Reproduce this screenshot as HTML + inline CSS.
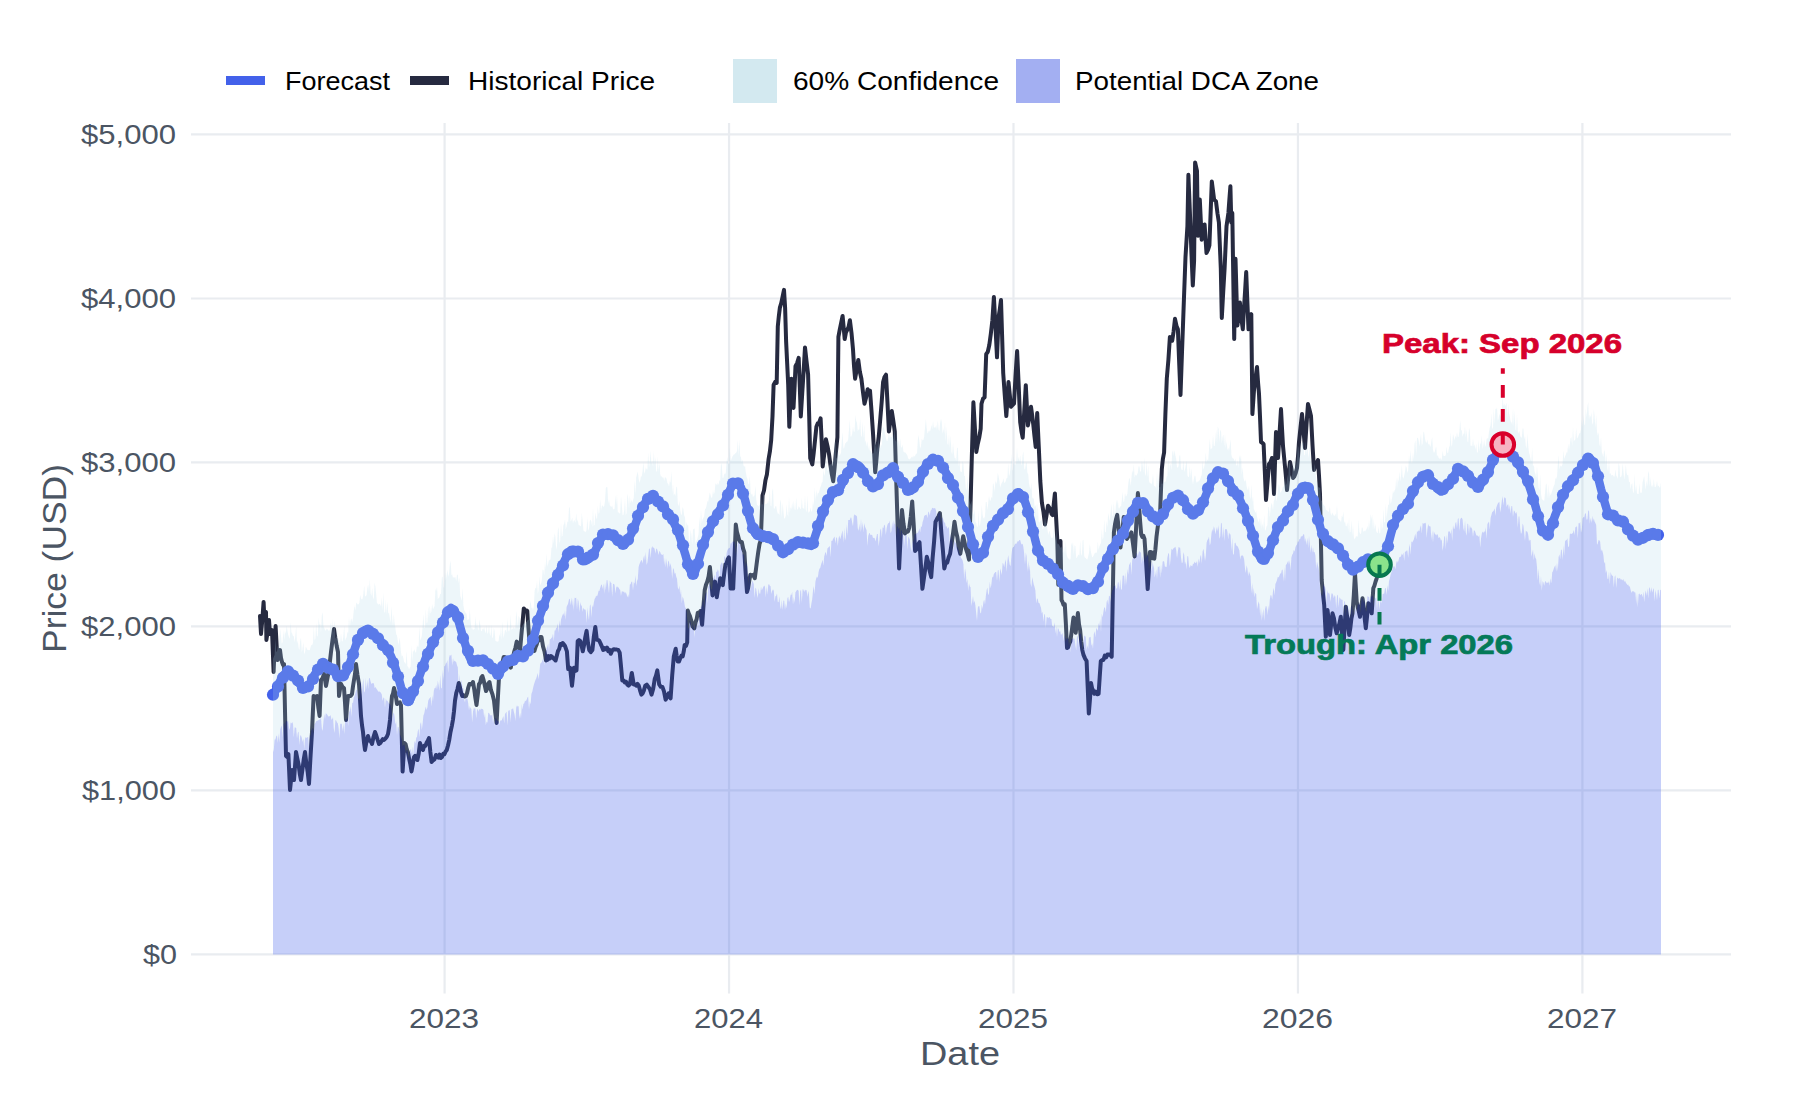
<!DOCTYPE html>
<html><head><meta charset="utf-8"><title>Forecast</title>
<style>html,body{margin:0;padding:0;background:#fff;width:1800px;height:1100px;overflow:hidden}svg{display:block}</style>
</head><body><svg width="1800" height="1100" viewBox="0 0 1800 1100" font-family='"Liberation Sans", sans-serif'><rect width="1800" height="1100" fill="#ffffff"/><g stroke="#e9ecf0" stroke-width="2.2"><line x1="191" y1="134.4" x2="1731" y2="134.4"/><line x1="191" y1="298.5" x2="1731" y2="298.5"/><line x1="191" y1="462.4" x2="1731" y2="462.4"/><line x1="191" y1="626.4" x2="1731" y2="626.4"/><line x1="191" y1="790.4" x2="1731" y2="790.4"/><line x1="191" y1="954.3" x2="1731" y2="954.3"/><line x1="444.6" y1="123" x2="444.6" y2="993.5"/><line x1="729.05" y1="123" x2="729.05" y2="993.5"/><line x1="1013.5" y1="123" x2="1013.5" y2="993.5"/><line x1="1297.95" y1="123" x2="1297.95" y2="993.5"/><line x1="1582.4" y1="123" x2="1582.4" y2="993.5"/></g><path d="M260,616 L261,634 L262.3,620.1 L263.6,602 L264.4,620 L266,612 L266.4,640 L267.7,631.3 L269,620 L270,634 L271,631.3 L272,630 L273.6,672 L274.6,647.3 L275.6,626 L276.6,644.9 L277.6,660 L278.8,653.1 L280,650 L281,657.9 L282,662 L283,664.9 L284,664 L285,710.7 L286,756 L287.2,757 L288.4,754 L290,790 L291,780.5 L292,770 L293,776.1 L294,780 L295,766.4 L296,752 L297.2,757.8 L298.5,764.1 L299.8,774.1 L301,780 L302.3,770.5 L303.7,759.7 L305,752 L306.3,762.9 L307.7,772.3 L309,784 L310.5,757 L312,732 L313.6,696 L314.7,697.7 L315.9,696.5 L317,696 L318.3,707.1 L319.6,716 L321,680 L322.5,678.4 L324,674 L325,679.7 L326,686 L327.5,677.8 L329,670 L330,660.7 L331,652 L332.5,639.9 L334,629 L335.3,637.9 L336.7,646 L338,652 L339,696 L340,689.1 L341,684 L342.5,686.9 L344,688 L345,702.7 L346,720 L347,705.8 L348,696 L349.3,696.1 L350.7,695.9 L352,694 L353,686.3 L354,680 L355,674.2 L356,664 L357.5,675 L359,684 L360,699.2 L361,716 L362,725.1 L363,732 L364,742.5 L365,750 L366.5,741.4 L368,736 L369.3,740.5 L370.7,741 L372,744 L373.5,737 L375,732 L376.3,735.5 L377.7,740.1 L379,744 L380.2,743.1 L381.5,741.1 L382.8,739.1 L384,740 L385.3,738.6 L386.7,737 L388,734 L389,727.9 L390,720 L391,707.5 L392,696 L393,693.6 L394,688 L395.5,693.9 L397,704 L398.5,703 L399.8,702.4 L401,705 L402.6,771.5 L404.4,743 L405.6,744.1 L406.8,749.6 L408,752.6 L409.2,759 L410.3,764 L411.5,771.5 L412.8,764.4 L414,757 L415.1,755.8 L416.3,757 L417.4,760 L418.7,753.5 L420,743 L421.5,748.2 L423,750 L424.2,745.7 L425.4,745.9 L426.6,742.8 L427.8,740.6 L429,738 L430.3,751.5 L431.6,762 L433.1,760.3 L434.5,759.3 L436,755 L437.2,756.2 L438.4,757.6 L439.6,754.5 L440.8,758 L442,757 L443.2,753.9 L444.4,754.3 L445.6,751.4 L446.8,749.9 L448,745.5 L449.2,740.1 L450.5,732 L451.8,726.1 L453,719.5 L454,711.3 L455,700.6 L456.3,692.8 L457.5,689 L458.8,683 L460,687.6 L461.1,692.6 L462.3,696 L463.5,695.3 L464.8,696.5 L466,696 L467.1,693 L468.3,687.5 L469.4,684 L470.6,684.1 L471.8,684.4 L473,682 L474.2,689.1 L475.3,697.4 L476.5,705 L477.8,694.4 L479,684 L480.1,682.8 L481.3,677.7 L482.4,676 L483.6,680.1 L484.8,685.5 L486,691 L487.2,688.7 L488.3,683.5 L489.5,682 L491,690.3 L492.5,694.4 L494,700.6 L495.3,712.8 L496.6,723 L497.8,699.6 L499,677 L500.2,669.9 L501.4,666.5 L502.5,662.3 L503.7,657 L505.1,657.3 L506.5,663.4 L508,663.7 L509.4,665.3 L510.8,667.6 L512,660.3 L513.2,656.1 L514.3,651.3 L515.5,647.5 L516.7,641.6 L517.8,643.3 L518.9,647.8 L520,651 L521.3,635.8 L522.5,623 L523.8,608.5 L525,610.2 L526.1,610.2 L527.3,611 L528.5,628.6 L529.7,644 L530.9,646.3 L532,645.7 L533.2,649.9 L534.4,651 L535.6,646.9 L536.8,644.1 L538,639 L539.2,640.3 L540.3,637 L541.5,637 L543,646.4 L544.5,651.5 L546,660.5 L547.2,660 L548.5,656.1 L549.8,658.6 L551,656 L552.1,656.9 L553.3,658.1 L554.5,659.4 L555.6,660.5 L556.8,655.8 L558,651.1 L559.2,649 L560.4,644 L561.5,645.1 L562.7,643 L563.9,644.5 L565,646 L566.9,651.3 L568.2,669.1 L570.1,667.8 L572,685.7 L573.9,667.8 L575.2,671 L576.5,670.4 L577.7,641.1 L579,640.1 L580.3,641.1 L581.5,645.3 L582.8,651.3 L584.1,644.8 L585.3,637.1 L586.6,630.9 L587.9,642.4 L589.2,650 L590.8,652.1 L592.4,650 L593.8,636.9 L595.3,627.1 L596.8,639.8 L598.1,639.9 L599.3,640.9 L600.6,643.6 L601.9,646.6 L603.2,650 L604.5,648.2 L605.7,649.1 L607,647.5 L608.3,651.3 L609.5,649.8 L610.8,653.8 L612.3,650.2 L613.8,649.2 L615.3,649.4 L616.8,649.6 L618.2,649.9 L619.7,652.6 L621,666.3 L622.3,680.6 L623.6,680.4 L624.8,682.4 L626.1,681.8 L627.4,684.7 L628.6,685.6 L629.9,684.4 L631.8,672.9 L633.7,684.4 L635,684.4 L636.2,685.7 L637.5,683.8 L638.8,685.7 L640.1,690.6 L641.4,694.6 L642.7,693.3 L643.9,690.4 L645.2,685.7 L646.8,684.7 L648.4,686.9 L650,689.3 L651.6,694.6 L653.2,688.7 L654.7,679.3 L656,675.7 L657.3,670.4 L659.2,684.4 L660.8,686.8 L662.4,686.9 L664,691.4 L665.6,699.7 L667.2,697 L668.7,693.3 L670.6,698.4 L672.2,675.3 L673.8,656.4 L675.7,648.7 L676.7,656.1 L677.7,661.5 L679,661.5 L680.2,658.2 L681.5,655.5 L682.7,656.4 L683.7,651.7 L684.7,644.9 L686,645.8 L687.2,642.4 L687.8,610.5 L688.9,613.9 L690,616.2 L691.3,620.8 L692.6,626.5 L694.3,628.3 L695.5,622.3 L696.6,619.3 L697.8,612.7 L699.1,613.9 L700.4,611 L702.1,624.8 L703.4,607 L704.7,590.3 L706,584.7 L707.3,581.6 L708.6,576.5 L709.9,567 L711.2,580.9 L712.5,595.4 L713.8,588.2 L715,581.6 L716.8,597.2 L717.9,590 L719.1,585.5 L720.2,578.2 L721.5,583.8 L722.8,585.1 L724.1,574.6 L725.4,564.4 L726.6,563.6 L727.7,559.3 L728.9,557.4 L730.6,588.5 L731.9,588.2 L733.2,588.5 L734.5,557.9 L735.8,524.6 L736.9,531.9 L738.1,536.1 L739.2,540.2 L740.5,542 L741.8,541.9 L743.1,548.5 L744.4,552.3 L745.7,574 L747,592 L748.1,588.2 L749.3,580.6 L750.4,574.7 L751.9,575.4 L753.3,574.9 L754.8,578.2 L755.9,569.7 L757.1,560.3 L758.2,552.3 L759.5,544.1 L760.8,540.2 L762.5,495.3 L764,490.5 L765.4,480.6 L766.9,474.5 L768.6,459 L769.9,451.4 L771.2,440 L772.5,416.4 L773.6,385 L775.2,381.8 L776.7,382.9 L777.8,326.4 L778.8,316.4 L779.9,307.6 L781.3,302.9 L782.6,296.6 L784,289.9 L785.1,307.6 L786.1,341.1 L787.2,363.8 L788.2,385 L789.3,426.8 L790.3,402.7 L791.4,378.7 L792.5,391.6 L793.5,408 L794.5,388.6 L795.5,366.2 L797.1,363.1 L798.7,357.8 L799.8,387 L800.8,416.4 L802.2,393.7 L803.6,371.7 L805,347.4 L806.5,360.9 L808.1,374.5 L809.2,416.2 L810.2,458.2 L811.2,461.2 L812.3,464.4 L813.7,452.9 L815,440.4 L816.4,426.8 L817.8,423.3 L819.2,422.4 L820.6,418.4 L821.7,441.9 L822.7,466.5 L824.3,453.7 L825.9,439.3 L827.5,446.1 L829,454 L830.4,464.8 L831.8,474.1 L833.2,481.2 L834.6,467.8 L836,451.4 L837.4,437.3 L838.4,336.9 L839.8,329.3 L841.2,322.7 L842.6,316 L843.7,328 L844.7,339 L846,332.2 L847.3,329.8 L848.6,326.8 L849.9,320.2 L851.5,332.9 L853,349.4 L854,365.8 L855.1,378.7 L856.7,369.6 L858.3,359.9 L859.8,371.5 L861.4,378.7 L863,392.2 L864.5,403.8 L866.1,397.5 L867.7,389.2 L868.9,391.1 L870,390.7 L871.5,410.8 L872.9,431.5 L874,450.2 L875.2,472.2 L876.2,462.2 L877.3,449 L878.8,436.1 L880.2,419.8 L881.7,401.9 L883.1,382 L884.5,377.1 L886,374.7 L887.5,403.1 L888.9,431.5 L890.3,421.3 L891.8,411 L893.3,420.7 L894.8,431.5 L896.2,479.5 L897.7,527.6 L899.1,568.4 L900.5,539.1 L902,510.1 L903.5,523.9 L905,533.4 L906.4,532 L907.9,531.6 L909.3,527.6 L910.8,516.3 L912.2,501.4 L913.7,524.7 L915.1,550.9 L916.6,549.2 L918,544.6 L919.5,542.2 L921,565.9 L922.4,588.8 L923.9,578.4 L925.3,568.5 L926.8,556.7 L928.3,562.6 L929.7,571.1 L931.2,577.1 L932.6,558.1 L934.1,541.5 L935.5,521.8 L937,518.8 L938.4,516.6 L939.9,513 L941.4,533.7 L942.8,549 L944.3,568.4 L945.8,562.6 L947.2,562.8 L948.6,557.6 L950.1,553.8 L951.6,543.8 L953,533.9 L954.5,521.8 L956,531.5 L957.4,537.3 L958.8,547.9 L960.3,553.8 L961.8,544.6 L963.2,536.3 L964.7,543.1 L966.1,549.4 L967.5,553.2 L969,559.6 L970.5,506.8 L971.9,454.1 L973.4,402.3 L974.8,426.4 L976.3,451.9 L977.8,443.7 L979.2,437.9 L980.7,428.6 L981.5,403.7 L983,398.7 L984.6,397.5 L986.2,354.2 L987.8,351.8 L989.3,345 L990.8,333.9 L992.4,320.2 L993.9,297 L995.5,327.4 L997,357.3 L998.6,317.1 L999.8,309.2 L1001,300.1 L1002.1,335.6 L1003.2,372.8 L1004.8,395.6 L1006.3,416.1 L1007.4,400.7 L1008.5,382.1 L1009.7,393.9 L1010.9,406.8 L1012.5,405.2 L1014,403.7 L1015.5,376.2 L1017.1,351.1 L1018.7,385.6 L1020.2,422.3 L1021.5,431.5 L1022.7,437.7 L1024.2,412.1 L1025.8,385.2 L1026.8,405.1 L1027.9,425.4 L1029.5,416.7 L1031,406.8 L1032.2,415.5 L1033.3,424.7 L1034.5,436.3 L1035.7,447 L1037.2,413 L1038.8,447.3 L1040.3,481 L1041.9,502.7 L1043.5,512.2 L1045,524.4 L1046.5,515.3 L1048,505.8 L1049.2,507.4 L1050.3,509.4 L1051.5,513.8 L1052.7,515.1 L1053.8,503.6 L1054.9,493.4 L1056.1,517.7 L1057.3,539.8 L1058.3,584.7 L1059.4,563.9 L1060.5,541 L1061.5,600 L1062.5,601.9 L1063.5,604.8 L1064.8,604.4 L1065.9,624.1 L1067,648 L1068.1,647.3 L1069.2,643.9 L1070.3,641.5 L1071.9,629.9 L1073.5,617.5 L1074.6,625.9 L1075.7,632.7 L1076.8,623.1 L1077.9,613.1 L1079,624.4 L1080.1,629.9 L1081.2,641.5 L1082.3,650.1 L1083.4,654.6 L1085,658.4 L1086.6,661.1 L1087.7,686.9 L1088.8,713.5 L1089.9,700 L1091,682.9 L1092.1,688.3 L1093.2,690.6 L1094.3,693.8 L1095.7,691.6 L1097.2,694.3 L1098.6,693.8 L1099.7,677.1 L1100.8,661.1 L1102.1,660.1 L1103.4,660 L1104.8,655.6 L1106.1,657.4 L1107.4,654.6 L1108.8,654.5 L1110.3,654.9 L1111.7,656.7 L1112.8,595.6 L1113.9,532.4 L1115,524.5 L1116.1,519 L1117.2,514.9 L1118.3,524.8 L1119.4,536.8 L1120.5,547.6 L1122.1,534.3 L1123.7,517.1 L1124.8,522.9 L1125.9,530.7 L1127,538.9 L1128.5,536.2 L1129.9,535.2 L1131.4,532.4 L1133,543.8 L1134.6,556.4 L1135.7,536 L1136.8,512.7 L1137.9,493.1 L1139,504.9 L1140.1,521.1 L1141.2,534.5 L1142.3,537 L1143.4,535.8 L1144.5,538.9 L1146.1,562 L1147.7,589.1 L1148.8,571.3 L1149.9,552 L1151.4,552.3 L1152.8,558.3 L1154.3,558.6 L1155.4,549.2 L1156.5,536.7 L1157.6,528 L1158.8,520.1 L1160.1,513 L1161.8,469.3 L1162.9,458.9 L1164.1,452.5 L1165.4,413.7 L1166.8,378.6 L1168.4,359.8 L1169.9,337 L1171.1,338.2 L1172.2,340.8 L1173.6,331.5 L1175,318.8 L1176.5,325.9 L1177.9,329.3 L1179.2,363.3 L1180.5,395 L1182,352.3 L1183.6,308.3 L1185.5,256.8 L1187.4,226.3 L1188.4,174.8 L1190.3,222.5 L1191.5,254.3 L1192.8,285.4 L1194.1,260.6 L1195.1,162.4 L1197,171 L1197.9,235.8 L1199.8,199.6 L1201.7,239.7 L1203.2,232.1 L1204.6,224.4 L1206.5,253 L1208,249.9 L1209.4,245.4 L1210.6,213.4 L1211.8,181.5 L1212.9,190.1 L1214.1,199.6 L1216,201.5 L1217.5,213.5 L1218.9,222.5 L1220.8,268.3 L1221.8,317.9 L1223.2,292.2 L1224.6,268.3 L1226.5,226.3 L1228.4,213 L1229.4,199.2 L1230.4,186.2 L1231.3,222.5 L1232.3,213 L1234.2,338.9 L1235.5,258.7 L1237.4,325.5 L1238.7,314.8 L1239.9,302.6 L1241.3,318 L1242.8,329.3 L1243.9,309.5 L1245.1,290.9 L1246.2,272.1 L1247.3,300.3 L1248.5,329.3 L1249.9,320.4 L1251.3,314.1 L1252.4,414 L1254,390 L1255.5,377.9 L1257,367 L1258,381.8 L1259,394 L1260,416.6 L1261,442 L1262.3,442.9 L1263.6,444 L1264.8,471 L1266,500 L1267.5,482.3 L1269,464 L1270.5,462.2 L1272,458 L1273,474.3 L1274,494 L1275,462.9 L1276,432 L1277,443.6 L1278,458 L1279.5,434.1 L1281,409 L1282,428.3 L1283,446 L1284.3,459.4 L1285.7,474.1 L1287,490 L1288.5,475.1 L1290,462 L1291.5,469.2 L1293,478 L1294.3,476.4 L1295.7,473 L1297,468 L1298,456.3 L1299,442 L1300.5,427.5 L1302,414 L1303.5,430.8 L1305,448 L1306.5,424.7 L1308,404 L1309.5,409.8 L1311,416 L1312.5,445 L1314,470 L1315.3,464.9 L1316.7,462.9 L1318,460 L1319,475.7 L1320,494 L1321.7,580 L1323,594 L1324.2,605 L1325.8,636.7 L1327.5,610 L1328.8,621.6 L1330,635 L1331.2,624.1 L1332.5,613.3 L1333.9,618 L1335.3,627.5 L1336.7,633.3 L1338.1,627.8 L1339.4,623.6 L1340.8,616.7 L1342,634.3 L1343.3,650 L1344.5,629.4 L1345.8,606.7 L1346.9,615.1 L1348.1,624.5 L1349.2,635 L1350.3,628.2 L1351.4,618.6 L1352.5,613.3 L1353.8,595.2 L1355,573.3 L1356.7,601.7 L1357.8,607.7 L1358.9,611.7 L1360,616.7 L1361.2,606.9 L1362.5,598.3 L1363.6,606.4 L1364.7,618.5 L1365.8,628.3 L1367,617 L1368.3,603.3 L1369.4,605 L1370.6,608.2 L1371.7,613.3 L1373.3,588.3 L1374.4,585.8 L1375.6,581.5 L1376.7,578.3 L1378.1,572.9 L1379.5,565" fill="none" stroke="#262a40" stroke-width="4" stroke-linejoin="round" stroke-linecap="round"/><path d="M273,695.4 L275,692 L277,687.7 L279,683.3 L281,679.3 L283,676.3 L285,673.7 L287,671.6 L289,672 L291,673 L293,674.4 L295,677.2 L297,680.4 L299,683.2 L301,685.5 L303,687.8 L305,688.2 L307,686.5 L309,684.8 L311,682 L313,678 L315,674 L317,671 L319,669 L321,667 L323,665 L325,664.5 L327,665.5 L329,666.5 L331,667.5 L333,669.2 L335,671.8 L337,674.2 L339,676.8 L341,677.3 L343,676 L345,674.7 L347,671.2 L349,665.6 L351,659.9 L353,654 L355,648 L357,642.4 L359,638.6 L361,635.1 L363,631.7 L365,630 L367,630 L369,630 L371,631 L373,633 L375,635 L377,637 L379,639.2 L381,641.8 L383,644.2 L385,646.8 L387,649.7 L389,653 L391,656.3 L393,661 L395,667 L397,673 L399,679.8 L401,687.2 L403,692.7 L405,696.1 L407,699.6 L409,701.6 L411,698 L413,693 L415,688 L417,682.9 L419,677.4 L421,671.6 L423,665.8 L425,660.1 L427,655.3 L429,651.3 L431,647.2 L433,643.1 L435,639 L437,634.6 L439,630.2 L441,625.9 L443,621.5 L445,617.3 L447,613.5 L449,609.8 L451,608 L453,609.5 L455,611.6 L457,615.5 L459,622.5 L461,629.8 L463,637.1 L465,643.5 L467,649.6 L469,655.7 L471,659.9 L473,660.5 L475,660.5 L477,660.5 L479,660.5 L481,661 L483,661.9 L485,662.9 L487,663.8 L489,664.8 L491,666.3 L493,668.1 L495,669.9 L497,671.7 L499,672.7 L501,670.7 L503,668 L505,665.2 L507,662.4 L509,660.4 L511,659.6 L513,659 L515,658.3 L517,657.7 L519,657 L521,656.3 L523,655.1 L525,652.8 L527,650.3 L529,647.8 L531,645.3 L533,640.3 L535,632.9 L537,625.4 L539,618.3 L541,612.6 L543,607.2 L545,601.8 L547,596.3 L549,591.4 L551,587.5 L553,583.7 L555,579.9 L557,576.1 L559,572 L561,568 L563,563.9 L565,559.9 L567,556 L569,552 L571,550 L573,550 L575,550 L577,550.8 L579,553.2 L581,556.1 L583,558.9 L585,561 L587,560.1 L589,558.5 L591,556.9 L593,554.9 L595,551.3 L597,546.9 L599,542.6 L601,538.4 L603,535.9 L605,534.6 L607,533.3 L609,533.3 L611,534.9 L613,536.7 L615,538.5 L617,540.1 L619,541.4 L621,542.6 L623,543.8 L625,544.2 L627,541.4 L629,537.8 L631,534.2 L633,530.3 L635,525.4 L637,519.9 L639,514.4 L641,510 L643,506.5 L645,503 L647,500.1 L649,498.7 L651,497.6 L653,497.4 L655,498.9 L657,500.7 L659,502.4 L661,504.5 L663,506.8 L665,509.2 L667,511.5 L669,513.8 L671,517 L673,521 L675,525.1 L677,529.1 L679,534.1 L681,540.4 L683,546.9 L685,553.4 L687,560.5 L689,567.7 L691,571.6 L693,572.3 L695,571.9 L697,566.4 L699,559.1 L701,552.3 L703,546.2 L705,540.2 L707,534.4 L709,529.9 L711,525.9 L713,521.8 L715,517.8 L717,514.2 L719,511 L721,507.8 L723,504.6 L725,501 L727,496.6 L729,492.2 L731,487.8 L733,484.3 L735,482.2 L737,482.9 L739,484.2 L741,487.7 L743,493.5 L745,499.8 L747,507.3 L749,515.5 L751,522.6 L753,528.1 L755,533.1 L757,535.3 L759,535.8 L761,536.3 L763,536.5 L765,536.1 L767,535.6 L769,535.4 L771,537 L773,539.4 L775,541.9 L777,544.4 L779,546.9 L781,549.4 L783,551.4 L785,550.8 L787,549 L789,547.2 L791,545.4 L793,543.7 L795,543 L797,542.7 L799,542.4 L801,542.1 L803,541.9 L805,542.7 L807,543.9 L809,545.1 L811,545.9 L813,542.8 L815,536.7 L817,530.6 L819,524.6 L821,518.6 L823,512.7 L825,507.1 L827,503.1 L829,499.5 L831,495.9 L833,492.5 L835,490.8 L837,489.8 L839,488.8 L841,486.1 L843,481.6 L845,477.1 L847,473.2 L849,470.5 L851,468.1 L853,465.7 L855,464 L857,464.8 L859,466.3 L861,467.9 L863,470.9 L865,475 L867,479.1 L869,482.1 L871,483.7 L873,485.2 L875,486 L877,483.9 L879,481.1 L881,478.2 L883,475.6 L885,473.6 L887,472 L889,470.5 L891,469.1 L893,469.9 L895,472.3 L897,474.7 L899,477.1 L901,479.6 L903,482.3 L905,485 L907,487.7 L909,490.4 L911,490.7 L913,488.7 L915,486.6 L917,484.6 L919,481.4 L921,476.6 L923,471.7 L925,467.2 L927,464.7 L929,462.7 L931,460.6 L933,459 L935,459.7 L937,461.3 L939,462.8 L941,464.5 L943,467.3 L945,471 L947,474.6 L949,478.2 L951,482 L953,486 L955,489.9 L957,494.2 L959,499.1 L961,504.2 L963,509.5 L965,515.9 L967,522.9 L969,529.8 L971,537 L973,544.5 L975,552 L977,557 L979,556.6 L981,555 L983,553 L985,547.8 L987,541.4 L989,534.9 L991,530.3 L993,527.5 L995,524.7 L997,521.8 L999,519.2 L1001,516.8 L1003,514.4 L1005,512 L1007,509.3 L1009,505.9 L1011,502.4 L1013,498.9 L1015,496.1 L1017,493.4 L1019,492.6 L1021,494.4 L1023,496.9 L1025,501.8 L1027,507.7 L1029,513.7 L1031,521.2 L1033,530.1 L1035,539.1 L1037,546.9 L1039,551.9 L1041,556.5 L1043,560.6 L1045,562.8 L1047,564.1 L1049,565.5 L1051,566.8 L1053,568.3 L1055,570.7 L1057,573.5 L1059,576.2 L1061,579 L1063,581.6 L1065,584 L1067,586.4 L1069,588.8 L1071,589.5 L1073,588.5 L1075,587.5 L1077,586.5 L1079,585.5 L1081,585.5 L1083,586.5 L1085,587.5 L1087,588.5 L1089,589.5 L1091,588.8 L1093,586.4 L1095,584 L1097,581.6 L1099,578.1 L1101,573.3 L1103,568.3 L1105,563.5 L1107,559.3 L1109,555.3 L1111,551.3 L1113,547.5 L1115,544.4 L1117,541.7 L1119,539.1 L1121,536.4 L1123,533.4 L1125,529.1 L1127,524.1 L1129,519.2 L1131,514.7 L1133,510.7 L1135,506.7 L1137,503.6 L1139,502.7 L1141,502.3 L1143,502.2 L1145,504.6 L1147,508.1 L1149,511.6 L1151,514.2 L1153,516 L1155,517.8 L1157,519.2 L1159,518.3 L1161,516.1 L1163,513.9 L1165,511.4 L1167,507.7 L1169,503.7 L1171,499.9 L1173,498 L1175,497.5 L1177,497 L1179,497.5 L1181,499.4 L1183,501.3 L1185,503.4 L1187,506.1 L1189,508.9 L1191,511.8 L1193,514.1 L1195,513.7 L1197,512.2 L1199,510.7 L1201,507.5 L1203,502.5 L1205,497.5 L1207,492.5 L1209,487.5 L1211,482.5 L1213,477.9 L1215,475.4 L1217,473.9 L1219,472.4 L1221,472.7 L1223,474.7 L1225,476.6 L1227,479 L1229,482.4 L1231,485.9 L1233,489.4 L1235,492.5 L1237,495.5 L1239,498.5 L1241,502.5 L1243,507.5 L1245,512.5 L1247,517.7 L1249,523.7 L1251,529.7 L1253,535.8 L1255,542.2 L1257,548.6 L1259,555.1 L1261,559 L1263,560.3 L1265,560.6 L1267,556.3 L1269,551 L1271,545.6 L1273,540.1 L1275,534.6 L1277,529.7 L1279,525.9 L1281,522.4 L1283,518.9 L1285,516 L1287,513.2 L1289,510.4 L1291,507.6 L1293,503.7 L1295,499.2 L1297,494.7 L1299,491.1 L1301,489 L1303,487 L1305,485.7 L1307,487 L1309,489 L1311,493.3 L1313,500 L1315,506.9 L1317,514.6 L1319,522.6 L1321,530.3 L1323,535.1 L1325,538 L1327,540.8 L1329,543.6 L1331,545.4 L1333,546.2 L1335,547 L1337,547.8 L1339,549.5 L1341,552.6 L1343,555.8 L1345,559 L1347,561.9 L1349,564 L1351,566 L1353,568 L1355,569.3 L1357,568 L1359,566 L1361,564 L1363,562.2 L1365,561.4 L1367,561 L1369,560.5 L1371,560.2 L1373,560.6 L1375,561.6 L1377,562.6 L1379,563.5 L1381,561.7 L1383,557.2 L1385,552.7 L1387,547.9 L1389,541.3 L1391,533.7 L1393,526.6 L1395,522 L1397,518.5 L1399,515 L1401,511.9 L1403,509.1 L1405,506.3 L1407,503.5 L1409,500.2 L1411,496.3 L1413,492.4 L1415,488.4 L1417,484.7 L1419,481.5 L1421,478.5 L1423,475.7 L1425,474.4 L1427,474.7 L1429,477.1 L1431,479.7 L1433,482.4 L1435,485 L1437,487.5 L1439,490.1 L1441,491.5 L1443,490 L1445,488.1 L1447,486.1 L1449,483.7 L1451,480.6 L1453,477.5 L1455,474.4 L1457,471.3 L1459,469.8 L1461,470.2 L1463,470.8 L1465,471.4 L1467,473.2 L1469,475.9 L1471,478.6 L1473,481 L1475,483 L1477,485 L1479,486.1 L1481,484.1 L1483,481.3 L1485,478.5 L1487,474.4 L1489,469.8 L1491,465.2 L1493,460.9 L1495,456.8 L1497,452.9 L1499,449.7 L1501,446.8 L1503,444.9 L1505,446.5 L1507,448.8 L1509,451.2 L1511,453.5 L1513,456.3 L1515,459.3 L1517,462.3 L1519,465.3 L1521,468.7 L1523,472.6 L1525,476.7 L1527,480.7 L1529,485.1 L1531,491.3 L1533,497.9 L1535,504.6 L1537,511.7 L1539,519.1 L1541,526.4 L1543,530.8 L1545,531.9 L1547,532.9 L1549,532.2 L1551,527.2 L1553,521.5 L1555,515.9 L1557,510.7 L1559,505.7 L1561,500.7 L1563,495.7 L1565,491.8 L1567,488.8 L1569,485.8 L1571,482.8 L1573,479.8 L1575,476.8 L1577,473.8 L1579,470.8 L1581,467.8 L1583,464.9 L1585,462 L1587,459.2 L1589,457.3 L1591,459.6 L1593,462.9 L1595,466.5 L1597,472.9 L1599,481 L1601,489 L1603,496.3 L1605,503.6 L1607,510.4 L1609,514.1 L1611,515.6 L1613,517.1 L1615,518.6 L1617,519.9 L1619,521 L1621,522 L1623,523 L1625,524.3 L1627,527 L1629,530 L1631,533 L1633,535.8 L1635,537.4 L1637,538.1 L1639,538.8 L1641,538.6 L1643,537.2 L1645,535.7 L1647,534.2 L1649,533 L1651,533.1 L1653,533.5 L1655,533.9 L1657,534.3" fill="none" stroke="#4361ea" stroke-width="8.5" stroke-linejoin="round" stroke-linecap="round"/><g fill="#4361ea"><circle cx="273" cy="694.7" r="6.1"/><circle cx="278" cy="686.4" r="6.1"/><circle cx="283" cy="677.7" r="6.1"/><circle cx="288" cy="671.3" r="6.1"/><circle cx="293" cy="675.6" r="6.1"/><circle cx="298" cy="680.5" r="6.1"/><circle cx="303" cy="687.9" r="6.1"/><circle cx="308" cy="686.5" r="6.1"/><circle cx="313" cy="679" r="6.1"/><circle cx="318" cy="669.6" r="6.1"/><circle cx="323" cy="663.8" r="6.1"/><circle cx="328" cy="667.7" r="6.1"/><circle cx="333" cy="669.6" r="6.1"/><circle cx="338" cy="676.1" r="6.1"/><circle cx="343" cy="675.4" r="6.1"/><circle cx="348" cy="667" r="6.1"/><circle cx="353" cy="654.3" r="6.1"/><circle cx="358" cy="639.9" r="6.1"/><circle cx="363" cy="633.1" r="6.1"/><circle cx="368" cy="630.6" r="6.1"/><circle cx="373" cy="633.9" r="6.1"/><circle cx="378" cy="638.3" r="6.1"/><circle cx="383" cy="645.2" r="6.1"/><circle cx="388" cy="650" r="6.1"/><circle cx="393" cy="662.8" r="6.1"/><circle cx="398" cy="676.5" r="6.1"/><circle cx="403" cy="693.1" r="6.1"/><circle cx="408" cy="700.2" r="6.1"/><circle cx="413" cy="691.5" r="6.1"/><circle cx="418" cy="681" r="6.1"/><circle cx="423" cy="666.6" r="6.1"/><circle cx="428" cy="653.9" r="6.1"/><circle cx="433" cy="642.2" r="6.1"/><circle cx="438" cy="632.4" r="6.1"/><circle cx="443" cy="622.5" r="6.1"/><circle cx="448" cy="612.2" r="6.1"/><circle cx="453" cy="611" r="6.1"/><circle cx="458" cy="617.4" r="6.1"/><circle cx="463" cy="638.1" r="6.1"/><circle cx="468" cy="650.9" r="6.1"/><circle cx="473" cy="661" r="6.1"/><circle cx="478" cy="660.6" r="6.1"/><circle cx="483" cy="660.4" r="6.1"/><circle cx="488" cy="664" r="6.1"/><circle cx="493" cy="668.7" r="6.1"/><circle cx="498" cy="673.9" r="6.1"/><circle cx="503" cy="666.4" r="6.1"/><circle cx="508" cy="661.3" r="6.1"/><circle cx="513" cy="660" r="6.1"/><circle cx="518" cy="655.9" r="6.1"/><circle cx="523" cy="656.5" r="6.1"/><circle cx="528" cy="650.6" r="6.1"/><circle cx="533" cy="639.7" r="6.1"/><circle cx="538" cy="620.7" r="6.1"/><circle cx="543" cy="605.9" r="6.1"/><circle cx="548" cy="592.7" r="6.1"/><circle cx="553" cy="583.4" r="6.1"/><circle cx="558" cy="574.8" r="6.1"/><circle cx="563" cy="565.5" r="6.1"/><circle cx="568" cy="554.2" r="6.1"/><circle cx="573" cy="551.6" r="6.1"/><circle cx="578" cy="551.6" r="6.1"/><circle cx="583" cy="559.4" r="6.1"/><circle cx="588" cy="557.5" r="6.1"/><circle cx="593" cy="554.6" r="6.1"/><circle cx="598" cy="543" r="6.1"/><circle cx="603" cy="534.5" r="6.1"/><circle cx="608" cy="534.2" r="6.1"/><circle cx="613" cy="535.3" r="6.1"/><circle cx="618" cy="540.1" r="6.1"/><circle cx="623" cy="543.9" r="6.1"/><circle cx="628" cy="539.7" r="6.1"/><circle cx="633" cy="528.6" r="6.1"/><circle cx="638" cy="515.8" r="6.1"/><circle cx="643" cy="507.1" r="6.1"/><circle cx="648" cy="498.9" r="6.1"/><circle cx="653" cy="495.9" r="6.1"/><circle cx="658" cy="501.5" r="6.1"/><circle cx="663" cy="506.4" r="6.1"/><circle cx="668" cy="514.5" r="6.1"/><circle cx="673" cy="519.4" r="6.1"/><circle cx="678" cy="530.2" r="6.1"/><circle cx="683" cy="545.3" r="6.1"/><circle cx="688" cy="564.3" r="6.1"/><circle cx="693" cy="573.9" r="6.1"/><circle cx="698" cy="563.8" r="6.1"/><circle cx="703" cy="544.8" r="6.1"/><circle cx="708" cy="532.1" r="6.1"/><circle cx="713" cy="521.3" r="6.1"/><circle cx="718" cy="514.3" r="6.1"/><circle cx="723" cy="505.4" r="6.1"/><circle cx="728" cy="494.8" r="6.1"/><circle cx="733" cy="483.5" r="6.1"/><circle cx="738" cy="483.3" r="6.1"/><circle cx="743" cy="493.6" r="6.1"/><circle cx="748" cy="511" r="6.1"/><circle cx="753" cy="528.3" r="6.1"/><circle cx="758" cy="534.1" r="6.1"/><circle cx="763" cy="536.2" r="6.1"/><circle cx="768" cy="537.1" r="6.1"/><circle cx="773" cy="539.1" r="6.1"/><circle cx="778" cy="545.6" r="6.1"/><circle cx="783" cy="552.3" r="6.1"/><circle cx="788" cy="549.2" r="6.1"/><circle cx="793" cy="544.6" r="6.1"/><circle cx="798" cy="542.1" r="6.1"/><circle cx="803" cy="542.7" r="6.1"/><circle cx="808" cy="543.4" r="6.1"/><circle cx="813" cy="543.2" r="6.1"/><circle cx="818" cy="525.9" r="6.1"/><circle cx="823" cy="511.6" r="6.1"/><circle cx="828" cy="500.1" r="6.1"/><circle cx="833" cy="492" r="6.1"/><circle cx="838" cy="490.2" r="6.1"/><circle cx="843" cy="479.9" r="6.1"/><circle cx="848" cy="473.1" r="6.1"/><circle cx="853" cy="464.2" r="6.1"/><circle cx="858" cy="467.2" r="6.1"/><circle cx="863" cy="472.6" r="6.1"/><circle cx="868" cy="481.2" r="6.1"/><circle cx="873" cy="486.4" r="6.1"/><circle cx="878" cy="484.1" r="6.1"/><circle cx="883" cy="475.4" r="6.1"/><circle cx="888" cy="472.5" r="6.1"/><circle cx="893" cy="468.2" r="6.1"/><circle cx="898" cy="476.9" r="6.1"/><circle cx="903" cy="482.9" r="6.1"/><circle cx="908" cy="490" r="6.1"/><circle cx="913" cy="487.4" r="6.1"/><circle cx="918" cy="481.8" r="6.1"/><circle cx="923" cy="471.7" r="6.1"/><circle cx="928" cy="464" r="6.1"/><circle cx="933" cy="459.7" r="6.1"/><circle cx="938" cy="460.9" r="6.1"/><circle cx="943" cy="467.6" r="6.1"/><circle cx="948" cy="478.1" r="6.1"/><circle cx="953" cy="485.1" r="6.1"/><circle cx="958" cy="497.7" r="6.1"/><circle cx="963" cy="511.1" r="6.1"/><circle cx="968" cy="527" r="6.1"/><circle cx="973" cy="544.3" r="6.1"/><circle cx="978" cy="557" r="6.1"/><circle cx="983" cy="552.8" r="6.1"/><circle cx="988" cy="536.8" r="6.1"/><circle cx="993" cy="525.9" r="6.1"/><circle cx="998" cy="519.7" r="6.1"/><circle cx="1003" cy="513.2" r="6.1"/><circle cx="1008" cy="509.1" r="6.1"/><circle cx="1013" cy="498.4" r="6.1"/><circle cx="1018" cy="494" r="6.1"/><circle cx="1023" cy="497.1" r="6.1"/><circle cx="1028" cy="512.2" r="6.1"/><circle cx="1033" cy="531.6" r="6.1"/><circle cx="1038" cy="550.4" r="6.1"/><circle cx="1043" cy="560.5" r="6.1"/><circle cx="1048" cy="563.9" r="6.1"/><circle cx="1053" cy="568.5" r="6.1"/><circle cx="1058" cy="574.2" r="6.1"/><circle cx="1063" cy="582.7" r="6.1"/><circle cx="1068" cy="585.9" r="6.1"/><circle cx="1073" cy="589" r="6.1"/><circle cx="1078" cy="585.4" r="6.1"/><circle cx="1083" cy="586.2" r="6.1"/><circle cx="1088" cy="589.2" r="6.1"/><circle cx="1093" cy="588.1" r="6.1"/><circle cx="1098" cy="581.8" r="6.1"/><circle cx="1103" cy="567.8" r="6.1"/><circle cx="1108" cy="558.9" r="6.1"/><circle cx="1113" cy="549.1" r="6.1"/><circle cx="1118" cy="540.5" r="6.1"/><circle cx="1123" cy="533.7" r="6.1"/><circle cx="1128" cy="520.6" r="6.1"/><circle cx="1133" cy="511.7" r="6.1"/><circle cx="1138" cy="502.9" r="6.1"/><circle cx="1143" cy="503.2" r="6.1"/><circle cx="1148" cy="511.4" r="6.1"/><circle cx="1153" cy="516.4" r="6.1"/><circle cx="1158" cy="519.8" r="6.1"/><circle cx="1163" cy="514.1" r="6.1"/><circle cx="1168" cy="504.4" r="6.1"/><circle cx="1173" cy="497.8" r="6.1"/><circle cx="1178" cy="495.5" r="6.1"/><circle cx="1183" cy="500.2" r="6.1"/><circle cx="1188" cy="509.3" r="6.1"/><circle cx="1193" cy="513.6" r="6.1"/><circle cx="1198" cy="510.2" r="6.1"/><circle cx="1203" cy="502.3" r="6.1"/><circle cx="1208" cy="488.4" r="6.1"/><circle cx="1213" cy="478.3" r="6.1"/><circle cx="1218" cy="472.2" r="6.1"/><circle cx="1223" cy="473.6" r="6.1"/><circle cx="1228" cy="481.1" r="6.1"/><circle cx="1233" cy="490.9" r="6.1"/><circle cx="1238" cy="495.3" r="6.1"/><circle cx="1243" cy="508.3" r="6.1"/><circle cx="1248" cy="520.9" r="6.1"/><circle cx="1253" cy="535.8" r="6.1"/><circle cx="1258" cy="551.6" r="6.1"/><circle cx="1263" cy="558.6" r="6.1"/><circle cx="1268" cy="553.1" r="6.1"/><circle cx="1273" cy="540.2" r="6.1"/><circle cx="1278" cy="527.1" r="6.1"/><circle cx="1283" cy="520.7" r="6.1"/><circle cx="1288" cy="511.2" r="6.1"/><circle cx="1293" cy="505" r="6.1"/><circle cx="1298" cy="493.8" r="6.1"/><circle cx="1303" cy="488.1" r="6.1"/><circle cx="1308" cy="488" r="6.1"/><circle cx="1313" cy="500" r="6.1"/><circle cx="1318" cy="519.8" r="6.1"/><circle cx="1323" cy="533.8" r="6.1"/><circle cx="1328" cy="541.2" r="6.1"/><circle cx="1333" cy="544.4" r="6.1"/><circle cx="1338" cy="548.4" r="6.1"/><circle cx="1343" cy="555.6" r="6.1"/><circle cx="1348" cy="564.6" r="6.1"/><circle cx="1353" cy="569.6" r="6.1"/><circle cx="1358" cy="566.7" r="6.1"/><circle cx="1363" cy="562.2" r="6.1"/><circle cx="1368" cy="559.3" r="6.1"/><circle cx="1373" cy="561.5" r="6.1"/><circle cx="1378" cy="563.1" r="6.1"/><circle cx="1383" cy="556" r="6.1"/><circle cx="1388" cy="546.2" r="6.1"/><circle cx="1393" cy="525" r="6.1"/><circle cx="1398" cy="515.7" r="6.1"/><circle cx="1403" cy="509" r="6.1"/><circle cx="1408" cy="503.8" r="6.1"/><circle cx="1413" cy="491.1" r="6.1"/><circle cx="1418" cy="482.2" r="6.1"/><circle cx="1423" cy="476.8" r="6.1"/><circle cx="1428" cy="475.2" r="6.1"/><circle cx="1433" cy="483.9" r="6.1"/><circle cx="1438" cy="487.1" r="6.1"/><circle cx="1443" cy="489.1" r="6.1"/><circle cx="1448" cy="484.3" r="6.1"/><circle cx="1453" cy="478.8" r="6.1"/><circle cx="1458" cy="468.8" r="6.1"/><circle cx="1463" cy="471.4" r="6.1"/><circle cx="1468" cy="475.9" r="6.1"/><circle cx="1473" cy="482.7" r="6.1"/><circle cx="1478" cy="487" r="6.1"/><circle cx="1483" cy="479.7" r="6.1"/><circle cx="1488" cy="472.1" r="6.1"/><circle cx="1493" cy="459.9" r="6.1"/><circle cx="1498" cy="449.8" r="6.1"/><circle cx="1503" cy="444" r="6.1"/><circle cx="1508" cy="450.8" r="6.1"/><circle cx="1513" cy="456.6" r="6.1"/><circle cx="1518" cy="462.4" r="6.1"/><circle cx="1523" cy="471.9" r="6.1"/><circle cx="1528" cy="481.1" r="6.1"/><circle cx="1533" cy="499.4" r="6.1"/><circle cx="1538" cy="516.3" r="6.1"/><circle cx="1543" cy="530.7" r="6.1"/><circle cx="1548" cy="534.8" r="6.1"/><circle cx="1553" cy="523.2" r="6.1"/><circle cx="1558" cy="507.1" r="6.1"/><circle cx="1563" cy="494.8" r="6.1"/><circle cx="1568" cy="486.2" r="6.1"/><circle cx="1573" cy="480.3" r="6.1"/><circle cx="1578" cy="472.7" r="6.1"/><circle cx="1583" cy="465" r="6.1"/><circle cx="1588" cy="458.7" r="6.1"/><circle cx="1593" cy="463" r="6.1"/><circle cx="1598" cy="476.3" r="6.1"/><circle cx="1603" cy="496.9" r="6.1"/><circle cx="1608" cy="514.3" r="6.1"/><circle cx="1613" cy="515.5" r="6.1"/><circle cx="1618" cy="520.4" r="6.1"/><circle cx="1623" cy="521.7" r="6.1"/><circle cx="1628" cy="529.4" r="6.1"/><circle cx="1633" cy="535.6" r="6.1"/><circle cx="1638" cy="539.7" r="6.1"/><circle cx="1643" cy="537.8" r="6.1"/><circle cx="1648" cy="535.1" r="6.1"/><circle cx="1653" cy="533.8" r="6.1"/><circle cx="1658" cy="534.9" r="6.1"/></g><path d="M273,659.1 L273.8,656.8 L274.6,654.9 L275.4,638.8 L276.2,651.6 L277,651.7 L277.8,645.9 L278.6,648.6 L279.4,637.7 L280.2,628.8 L281,636.2 L281.8,643.8 L282.6,642.1 L283.4,630.2 L284.2,640.2 L285,630.9 L285.8,633.9 L286.6,625.8 L287.4,630.2 L288.2,634.8 L289,637.2 L289.8,638.8 L290.6,622.1 L291.4,631.9 L292.2,633.6 L293,636 L293.8,636.2 L294.6,642.6 L295.4,635.4 L296.2,626 L297,644 L297.8,640.6 L298.6,647.7 L299.4,650.1 L300.2,641 L301,637.4 L301.8,652.7 L302.6,647.9 L303.4,642.3 L304.2,654.5 L305,652.2 L305.8,646.7 L306.6,648.1 L307.4,650.1 L308.2,650.1 L309,650.3 L309.8,650 L310.6,646.9 L311.4,645.1 L312.2,644.9 L313,643 L313.8,626.1 L314.6,640.5 L315.4,638.5 L316.2,622.4 L317,636.8 L317.8,635.2 L318.6,617.6 L319.4,624.9 L320.2,623.8 L321,632.5 L321.8,615.8 L322.6,612.3 L323.4,626.3 L324.2,628.1 L325,629.9 L325.8,630.8 L326.6,628.8 L327.4,629 L328.2,630.7 L329,630.2 L329.8,630.7 L330.6,622.2 L331.4,630.9 L332.2,619.2 L333,633 L333.8,626.9 L334.6,621 L335.4,637.8 L336.2,638.9 L337,624.8 L337.8,641.3 L338.6,637.8 L339.4,643.4 L340.2,641.8 L341,633.3 L341.8,641.1 L342.6,641.4 L343.4,636 L344.2,625.6 L345,640.4 L345.8,638.6 L346.6,637.3 L347.4,631.9 L348.2,633 L349,616.2 L349.8,628.5 L350.6,620.6 L351.4,618.3 L352.2,622.2 L353,618.3 L353.8,610.3 L354.6,605.4 L355.4,610.7 L356.2,602.5 L357,603.5 L357.8,604.6 L358.6,604.3 L359.4,602.8 L360.2,594.7 L361,598.6 L361.8,599.4 L362.6,598.9 L363.4,593.8 L364.2,585.5 L365,596.2 L365.8,596.3 L366.6,594.9 L367.4,587.8 L368.2,584.7 L369,591.9 L369.8,579.1 L370.6,593.2 L371.4,595.9 L372.2,587.7 L373,597.6 L373.8,599.5 L374.6,582.4 L375.4,586.5 L376.2,594.8 L377,603.5 L377.8,603.4 L378.6,604.7 L379.4,603.8 L380.2,604.4 L381,606.6 L381.8,597.2 L382.6,610.7 L383.4,592.3 L384.2,611.4 L385,613.1 L385.8,599.8 L386.6,613.9 L387.4,601.6 L388.2,613.4 L389,613.1 L389.8,618 L390.6,622.7 L391.4,605.7 L392.2,618.5 L393,626.5 L393.8,613.7 L394.6,623.7 L395.4,628 L396.2,634.2 L397,635.4 L397.8,641 L398.6,645.3 L399.4,637.4 L400.2,642.4 L401,652.5 L401.8,656.8 L402.6,655.3 L403.4,658.3 L404.2,662.3 L405,662.5 L405.8,664.3 L406.6,650.7 L407.4,666.3 L408.2,666.8 L409,669.6 L409.8,667.7 L410.6,666.5 L411.4,644.9 L412.2,661.2 L413,650.3 L413.8,652 L414.6,648.9 L415.4,652.9 L416.2,651.4 L417,645.2 L417.8,647 L418.6,646.5 L419.4,626 L420.2,640.5 L421,638.7 L421.8,635.9 L422.6,626.4 L423.4,613.8 L424.2,628.1 L425,627.6 L425.8,609.1 L426.6,623.1 L427.4,622.4 L428.2,605.8 L429,618.6 L429.8,605.3 L430.6,613.8 L431.4,611.3 L432.2,603.9 L433,609.2 L433.8,607.5 L434.6,606.1 L435.4,588.8 L436.2,590.9 L437,586.8 L437.8,599.3 L438.6,598 L439.4,597.5 L440.2,594.1 L441,593.7 L441.8,577.8 L442.6,576.5 L443.4,587 L444.2,588.2 L445,572.6 L445.8,580.7 L446.6,575.3 L447.4,569.7 L448.2,576.7 L449,573.8 L449.8,565.2 L450.6,560.6 L451.4,574.9 L452.2,574.5 L453,578 L453.8,577.1 L454.6,577.8 L455.4,577 L456.2,581.3 L457,574.4 L457.8,574.9 L458.6,583.6 L459.4,577.2 L460.2,595.6 L461,598.1 L461.8,601 L462.6,588 L463.4,605.6 L464.2,609.9 L465,611.6 L465.8,613.2 L466.6,613.7 L467.4,620.3 L468.2,619.4 L469,619.4 L469.8,608.7 L470.6,620.9 L471.4,628.4 L472.2,628 L473,630.1 L473.8,629.3 L474.6,628.9 L475.4,616.1 L476.2,628.1 L477,622.6 L477.8,628.2 L478.6,630.7 L479.4,619.2 L480.2,624.3 L481,630.5 L481.8,631.2 L482.6,628.5 L483.4,629.5 L484.2,627.2 L485,630.9 L485.8,633.3 L486.6,624.7 L487.4,633.9 L488.2,632.6 L489,625 L489.8,633.9 L490.6,636 L491.4,624.7 L492.2,637.7 L493,637.5 L493.8,627.8 L494.6,630.7 L495.4,641.1 L496.2,640.7 L497,642.3 L497.8,641.2 L498.6,641.2 L499.4,634.3 L500.2,637.1 L501,626.1 L501.8,640.2 L502.6,621.2 L503.4,638.2 L504.2,635 L505,629.8 L505.8,630.3 L506.6,632.7 L507.4,618.1 L508.2,630 L509,631.8 L509.8,629.3 L510.6,614.7 L511.4,630.1 L512.2,628.5 L513,628.9 L513.8,626.8 L514.6,628.7 L515.4,628.3 L516.2,610.5 L517,617.4 L517.8,627.2 L518.6,615.7 L519.4,617.4 L520.2,626.8 L521,626.5 L521.8,627.9 L522.6,625.3 L523.4,623.8 L524.2,622.9 L525,623.7 L525.8,622.7 L526.6,621.7 L527.4,620.3 L528.2,620.3 L529,619.3 L529.8,605.4 L530.6,600.6 L531.4,608.1 L532.2,607.4 L533,610 L533.8,607.1 L534.6,591.2 L535.4,587.4 L536.2,588.7 L537,580.4 L537.8,593.9 L538.6,589.7 L539.4,576.2 L540.2,585.4 L541,583.4 L541.8,580.7 L542.6,569.5 L543.4,569.9 L544.2,575.5 L545,561.7 L545.8,569.5 L546.6,553.6 L547.4,566.4 L548.2,563.8 L549,559.6 L549.8,560.5 L550.6,558.9 L551.4,547.7 L552.2,547.2 L553,536.2 L553.8,543.9 L554.6,533 L555.4,537 L556.2,550.1 L557,545.3 L557.8,530.2 L558.6,527 L559.4,543.4 L560.2,540.4 L561,522.8 L561.8,536.8 L562.6,535.5 L563.4,524.9 L564.2,524.1 L565,519.5 L565.8,529.5 L566.6,525.9 L567.4,521.4 L568.2,521.9 L569,508.4 L569.8,506.7 L570.6,521.6 L571.4,520.5 L572.2,517.6 L573,523.3 L573.8,520.5 L574.6,520.3 L575.4,522.8 L576.2,513 L577,521.7 L577.8,519.6 L578.6,525.3 L579.4,525.2 L580.2,526.1 L581,526.3 L581.8,513.1 L582.6,520.8 L583.4,529.9 L584.2,531.5 L585,531.2 L585.8,532.5 L586.6,529.2 L587.4,517.3 L588.2,530.8 L589,528.4 L589.8,521.3 L590.6,519.4 L591.4,521.7 L592.2,526.9 L593,508.1 L593.8,525.9 L594.6,524.8 L595.4,512.6 L596.2,517.5 L597,519.5 L597.8,506 L598.6,514 L599.4,512.2 L600.2,498.9 L601,510.9 L601.8,506.2 L602.6,505.2 L603.4,507.1 L604.2,506.1 L605,501.1 L605.8,488.2 L606.6,486.8 L607.4,487.5 L608.2,503.9 L609,498.9 L609.8,505.2 L610.6,506.2 L611.4,507 L612.2,505.4 L613,509 L613.8,509.4 L614.6,508.8 L615.4,495.1 L616.2,504.7 L617,494.6 L617.8,512.4 L618.6,512.3 L619.4,513.6 L620.2,512.9 L621,496.5 L621.8,505.3 L622.6,515.3 L623.4,515 L624.2,510.2 L625,498.7 L625.8,515.4 L626.6,512.7 L627.4,493.6 L628.2,498.2 L629,508.5 L629.8,495.3 L630.6,503.4 L631.4,499.6 L632.2,502.7 L633,500.2 L633.8,497.6 L634.6,480.4 L635.4,494.4 L636.2,477.3 L637,474.5 L637.8,471.4 L638.6,478.6 L639.4,483.1 L640.2,480.3 L641,476.3 L641.8,476.4 L642.6,470.4 L643.4,461.9 L644.2,473.6 L645,472 L645.8,467.6 L646.6,469.5 L647.4,469.5 L648.2,452.6 L649,467.5 L649.8,462 L650.6,450.8 L651.4,463.7 L652.2,460.6 L653,466.9 L653.8,450.9 L654.6,464.7 L655.4,456.9 L656.2,470.8 L657,471.9 L657.8,456.2 L658.6,471.8 L659.4,462 L660.2,474.1 L661,476.9 L661.8,476.1 L662.6,477.7 L663.4,477.3 L664.2,481.1 L665,476.7 L665.8,477.9 L666.6,478.7 L667.4,483.3 L668.2,483.8 L669,486.6 L669.8,481.1 L670.6,482.5 L671.4,470.9 L672.2,493.2 L673,483.5 L673.8,495.6 L674.6,493.6 L675.4,496.2 L676.2,487.4 L677,486.6 L677.8,503.5 L678.6,506.4 L679.4,500.8 L680.2,509.7 L681,514.4 L681.8,514.8 L682.6,506.9 L683.4,509.2 L684.2,515.4 L685,517.6 L685.8,531.1 L686.6,521.7 L687.4,525.6 L688.2,525.2 L689,541.3 L689.8,541.8 L690.6,529.6 L691.4,534.9 L692.2,544.7 L693,529.2 L693.8,529.2 L694.6,528.3 L695.4,543.6 L696.2,541.3 L697,539.8 L697.8,537.3 L698.6,533.6 L699.4,516.8 L700.2,527 L701,510 L701.8,523 L702.6,519.6 L703.4,517.7 L704.2,516 L705,509.3 L705.8,508.6 L706.6,505.5 L707.4,501 L708.2,501.9 L709,496.8 L709.8,492.5 L710.6,495.3 L711.4,498.1 L712.2,497.2 L713,490.1 L713.8,494.4 L714.6,492.2 L715.4,483.5 L716.2,483.9 L717,485.5 L717.8,482.8 L718.6,485 L719.4,480 L720.2,481.2 L721,462.9 L721.8,465.3 L722.6,478 L723.4,477.7 L724.2,473.6 L725,474.5 L725.8,472.4 L726.6,461.9 L727.4,456.7 L728.2,464.7 L729,463 L729.8,447.7 L730.6,460.6 L731.4,459.6 L732.2,457 L733,455.8 L733.8,454.5 L734.6,454.3 L735.4,453.2 L736.2,452.7 L737,450.9 L737.8,439.9 L738.6,455.4 L739.4,439.7 L740.2,455.9 L741,457.5 L741.8,462.4 L742.6,459.5 L743.4,465.1 L744.2,467 L745,465.6 L745.8,472.3 L746.6,476.6 L747.4,479.1 L748.2,483.8 L749,484.4 L749.8,475.3 L750.6,492.2 L751.4,494.8 L752.2,493.4 L753,497.5 L753.8,495.8 L754.6,495.6 L755.4,485.6 L756.2,499 L757,504.7 L757.8,505.5 L758.6,506.6 L759.4,505.1 L760.2,504.3 L761,495.8 L761.8,504.4 L762.6,504.2 L763.4,488 L764.2,506.2 L765,504.1 L765.8,504.3 L766.6,503.8 L767.4,503.3 L768.2,499.9 L769,503.9 L769.8,488.6 L770.6,505.8 L771.4,506.6 L772.2,490.9 L773,488.2 L773.8,508.3 L774.6,508.8 L775.4,506.2 L776.2,505.9 L777,510.7 L777.8,513.8 L778.6,513.4 L779.4,515.2 L780.2,499.5 L781,502.5 L781.8,517.5 L782.6,502.9 L783.4,510.8 L784.2,518.8 L785,518 L785.8,515.8 L786.6,504.3 L787.4,514.3 L788.2,516.4 L789,496.5 L789.8,512.8 L790.6,507.1 L791.4,509.5 L792.2,502.2 L793,509.9 L793.8,500.4 L794.6,509.6 L795.4,510 L796.2,497.1 L797,508.6 L797.8,509.9 L798.6,506.3 L799.4,506.9 L800.2,509.1 L801,508.8 L801.8,498 L802.6,508.1 L803.4,508.2 L804.2,509.2 L805,495.6 L805.8,509.3 L806.6,512.4 L807.4,495.4 L808.2,513 L809,511.7 L809.8,511.4 L810.6,507.6 L811.4,511.9 L812.2,510.6 L813,500.7 L813.8,506.5 L814.6,487.3 L815.4,501.3 L816.2,489.6 L817,497 L817.8,493 L818.6,493.2 L819.4,490.8 L820.2,487.6 L821,485.7 L821.8,482.4 L822.6,482.1 L823.4,469.2 L824.2,476.1 L825,473 L825.8,458.3 L826.6,466.2 L827.4,471.3 L828.2,469.2 L829,466 L829.8,464.3 L830.6,464.6 L831.4,463.9 L832.2,462.2 L833,460.9 L833.8,459.3 L834.6,444.4 L835.4,441 L836.2,457.4 L837,458.7 L837.8,447.3 L838.6,454.8 L839.4,455.7 L840.2,454.5 L841,453 L841.8,440.5 L842.6,431.9 L843.4,448.6 L844.2,447.9 L845,443.7 L845.8,442.9 L846.6,441.7 L847.4,441.4 L848.2,439 L849,429.2 L849.8,419.7 L850.6,436.8 L851.4,436.5 L852.2,433.3 L853,426.6 L853.8,431.8 L854.6,431.7 L855.4,414.9 L856.2,420.9 L857,422.8 L857.8,431.2 L858.6,429.6 L859.4,429.5 L860.2,417.9 L861,436.1 L861.8,436.7 L862.6,420.9 L863.4,438.8 L864.2,424.5 L865,443 L865.8,439.9 L866.6,446.5 L867.4,441.3 L868.2,450 L869,445.1 L869.8,450.7 L870.6,451 L871.4,452.8 L872.2,453.3 L873,453.8 L873.8,452.6 L874.6,442.4 L875.4,440.6 L876.2,452.5 L877,440 L877.8,450.5 L878.6,437.1 L879.4,447.6 L880.2,448.3 L881,444.8 L881.8,445.8 L882.6,428.7 L883.4,426.8 L884.2,429 L885,433.9 L885.8,437.5 L886.6,440.6 L887.4,441.1 L888.2,437.6 L889,432.5 L889.8,438.6 L890.6,436.5 L891.4,437.1 L892.2,437.3 L893,433.5 L893.8,439.6 L894.6,426 L895.4,440 L896.2,441.9 L897,430.3 L897.8,439.8 L898.6,441.5 L899.4,446.2 L900.2,438.2 L901,447.1 L901.8,447.8 L902.6,444.4 L903.4,451.5 L904.2,452.2 L905,452.4 L905.8,452.8 L906.6,454.2 L907.4,455.5 L908.2,458.7 L909,458.8 L909.8,459.4 L910.6,458.3 L911.4,457.3 L912.2,456.6 L913,457.7 L913.8,455.6 L914.6,456.8 L915.4,455.1 L916.2,453.5 L917,453.7 L917.8,440.3 L918.6,434.7 L919.4,441.8 L920.2,448.4 L921,446 L921.8,438.6 L922.6,440.5 L923.4,440 L924.2,436.6 L925,427.5 L925.8,419.3 L926.6,427.1 L927.4,433.4 L928.2,432.5 L929,429.9 L929.8,431.7 L930.6,429.8 L931.4,424.7 L932.2,429.4 L933,421.1 L933.8,427.4 L934.6,427.5 L935.4,427.7 L936.2,425.1 L937,430.1 L937.8,420.2 L938.6,429.6 L939.4,431.3 L940.2,422.3 L941,418.7 L941.8,422.2 L942.6,434 L943.4,428.2 L944.2,433.9 L945,422.3 L945.8,441.8 L946.6,426.6 L947.4,443.6 L948.2,445.3 L949,434.4 L949.8,448.1 L950.6,435.2 L951.4,451.8 L952.2,454.4 L953,443 L953.8,452.3 L954.6,458.1 L955.4,458 L956.2,461.2 L957,448.3 L957.8,447.4 L958.6,466.4 L959.4,459 L960.2,471.1 L961,471.9 L961.8,472 L962.6,461 L963.4,463.9 L964.2,475.6 L965,476.3 L965.8,488 L966.6,490.6 L967.4,476 L968.2,488.6 L969,497.4 L969.8,502.1 L970.6,505 L971.4,500.5 L972.2,511.8 L973,513 L973.8,514.9 L974.6,508.7 L975.4,521.8 L976.2,523.1 L977,526.8 L977.8,526.8 L978.6,510.5 L979.4,526.4 L980.2,524.1 L981,517.8 L981.8,505.2 L982.6,515.1 L983.4,518.2 L984.2,518.5 L985,515.9 L985.8,502 L986.6,502.1 L987.4,510.1 L988.2,503.3 L989,495.6 L989.8,500.5 L990.6,500.8 L991.4,496.5 L992.2,498.7 L993,483 L993.8,485 L994.6,491.9 L995.4,480.4 L996.2,484 L997,481.6 L997.8,472.8 L998.6,476.2 L999.4,480.7 L1000.2,487.7 L1001,484.8 L1001.8,482.7 L1002.6,482 L1003.4,478.3 L1004.2,482.9 L1005,482.6 L1005.8,480.9 L1006.6,478 L1007.4,477.9 L1008.2,462.7 L1009,476.2 L1009.8,474.1 L1010.6,466.8 L1011.4,453.4 L1012.2,470.7 L1013,469.2 L1013.8,456.2 L1014.6,464.8 L1015.4,464.4 L1016.2,462.7 L1017,447.6 L1017.8,461.7 L1018.6,456.7 L1019.4,461.9 L1020.2,454.9 L1021,463.2 L1021.8,465.8 L1022.6,455.3 L1023.4,451.2 L1024.2,468.6 L1025,469.8 L1025.8,464 L1026.6,462.2 L1027.4,473 L1028.2,474 L1029,483.2 L1029.8,487.5 L1030.6,489.2 L1031.4,482.6 L1032.2,497.4 L1033,498.6 L1033.8,498.6 L1034.6,506.6 L1035.4,506.5 L1036.2,504.3 L1037,517.1 L1037.8,503 L1038.6,521.5 L1039.4,522.8 L1040.2,520.6 L1041,521.6 L1041.8,519.3 L1042.6,529.5 L1043.4,528.4 L1044.2,523.9 L1045,516.6 L1045.8,522.4 L1046.6,523.4 L1047.4,528.8 L1048.2,534.9 L1049,532 L1049.8,530.8 L1050.6,535.8 L1051.4,538 L1052.2,537.7 L1053,537.6 L1053.8,527.4 L1054.6,536.7 L1055.4,541.6 L1056.2,526.7 L1057,542.6 L1057.8,544.6 L1058.6,544 L1059.4,545.6 L1060.2,547.3 L1061,548 L1061.8,546.2 L1062.6,549.6 L1063.4,552.8 L1064.2,546 L1065,555.1 L1065.8,540.9 L1066.6,554.3 L1067.4,556.9 L1068.2,559.1 L1069,558 L1069.8,560.2 L1070.6,558.7 L1071.4,542.6 L1072.2,545.9 L1073,541.9 L1073.8,554.8 L1074.6,545.2 L1075.4,546.1 L1076.2,558.2 L1077,557.4 L1077.8,555.8 L1078.6,554.6 L1079.4,555.6 L1080.2,540.3 L1081,554.3 L1081.8,555.8 L1082.6,540.7 L1083.4,539.5 L1084.2,556.3 L1085,557.8 L1085.8,558 L1086.6,559.2 L1087.4,559.6 L1088.2,556.2 L1089,552.8 L1089.8,543.7 L1090.6,550 L1091.4,554 L1092.2,557.5 L1093,556.7 L1093.8,555 L1094.6,553.6 L1095.4,552.6 L1096.2,553 L1097,552.1 L1097.8,541.5 L1098.6,550.1 L1099.4,546.2 L1100.2,544.5 L1101,542.9 L1101.8,529.2 L1102.6,539.7 L1103.4,537.6 L1104.2,519.2 L1105,532.3 L1105.8,531.9 L1106.6,521 L1107.4,527.6 L1108.2,512.7 L1109,517.2 L1109.8,521.2 L1110.6,512.6 L1111.4,503.4 L1112.2,515.6 L1113,516.3 L1113.8,502.2 L1114.6,513.9 L1115.4,512.6 L1116.2,499.4 L1117,504.9 L1117.8,499.8 L1118.6,508.3 L1119.4,508.4 L1120.2,505.7 L1121,506.9 L1121.8,500.3 L1122.6,492.1 L1123.4,501.8 L1124.2,501.5 L1125,492.8 L1125.8,496.5 L1126.6,495.8 L1127.4,493.4 L1128.2,484.2 L1129,479.1 L1129.8,478.1 L1130.6,486 L1131.4,478.6 L1132.2,469.9 L1133,473.6 L1133.8,463.9 L1134.6,477.7 L1135.4,474.4 L1136.2,475.9 L1137,474.4 L1137.8,472.9 L1138.6,466.2 L1139.4,466.5 L1140.2,471.8 L1141,471.2 L1141.8,461 L1142.6,464.9 L1143.4,472.4 L1144.2,457.2 L1145,474 L1145.8,476.1 L1146.6,460.7 L1147.4,477.8 L1148.2,465.3 L1149,481.3 L1149.8,482.9 L1150.6,483.2 L1151.4,484.2 L1152.2,482.5 L1153,473.2 L1153.8,485.5 L1154.6,486.3 L1155.4,486.6 L1156.2,489 L1157,471.3 L1157.8,487.9 L1158.6,473.9 L1159.4,487.3 L1160.2,487.3 L1161,473.4 L1161.8,483.9 L1162.6,483.6 L1163.4,478 L1164.2,482.6 L1165,482.1 L1165.8,481.2 L1166.6,476.8 L1167.4,475.9 L1168.2,459.1 L1169,474 L1169.8,465.3 L1170.6,463.9 L1171.4,470.3 L1172.2,452.4 L1173,450.2 L1173.8,456 L1174.6,450 L1175.4,455.6 L1176.2,459.1 L1177,467.5 L1177.8,467.5 L1178.6,466 L1179.4,455.4 L1180.2,455.6 L1181,468.2 L1181.8,470 L1182.6,470 L1183.4,460.2 L1184.2,472 L1185,469.5 L1185.8,465.2 L1186.6,460.5 L1187.4,475.5 L1188.2,476.7 L1189,477.3 L1189.8,465.3 L1190.6,478.1 L1191.4,467.7 L1192.2,479.6 L1193,484.6 L1193.8,479.6 L1194.6,475.8 L1195.4,475.7 L1196.2,483 L1197,481.1 L1197.8,482.4 L1198.6,481.1 L1199.4,480.5 L1200.2,479.2 L1201,476.6 L1201.8,474.5 L1202.6,460.9 L1203.4,469.7 L1204.2,467 L1205,462.7 L1205.8,452.6 L1206.6,463 L1207.4,459.2 L1208.2,460.5 L1209,448.9 L1209.8,439.1 L1210.6,449.4 L1211.4,448.6 L1212.2,448.1 L1213,435.1 L1213.8,446 L1214.6,446 L1215.4,438.7 L1216.2,430.1 L1217,443.6 L1217.8,426.5 L1218.6,429 L1219.4,442.4 L1220.2,429.9 L1221,431 L1221.8,443.5 L1222.6,436.8 L1223.4,434.8 L1224.2,446.8 L1225,433.8 L1225.8,448 L1226.6,441.3 L1227.4,450.3 L1228.2,447.8 L1229,451.1 L1229.8,445.7 L1230.6,438.9 L1231.4,454.9 L1232.2,457.8 L1233,458.6 L1233.8,458.8 L1234.6,461.6 L1235.4,458.5 L1236.2,464.7 L1237,466 L1237.8,459.9 L1238.6,467.9 L1239.4,454.9 L1240.2,458.9 L1241,454.9 L1241.8,474.9 L1242.6,466.9 L1243.4,477.7 L1244.2,480.8 L1245,481.7 L1245.8,479.5 L1246.6,485.9 L1247.4,489.4 L1248.2,490 L1249,485.5 L1249.8,496.5 L1250.6,499.1 L1251.4,484.4 L1252.2,502.1 L1253,495.9 L1253.8,509.1 L1254.6,510.5 L1255.4,512.9 L1256.2,511.1 L1257,516.7 L1257.8,519.9 L1258.6,522.7 L1259.4,517.6 L1260.2,526.3 L1261,518.1 L1261.8,528.7 L1262.6,523 L1263.4,528.9 L1264.2,514.4 L1265,531.1 L1265.8,529.6 L1266.6,526.3 L1267.4,525.3 L1268.2,507.2 L1269,506.9 L1269.8,517.6 L1270.6,508.8 L1271.4,502.7 L1272.2,504.8 L1273,510.4 L1273.8,501 L1274.6,499.2 L1275.4,486.4 L1276.2,501.2 L1277,499.1 L1277.8,492.1 L1278.6,484.2 L1279.4,485.8 L1280.2,493.1 L1281,491.7 L1281.8,490.8 L1282.6,487.6 L1283.4,486.8 L1284.2,485.6 L1285,477 L1285.8,485.6 L1286.6,483.2 L1287.4,474.2 L1288.2,481.2 L1289,462.2 L1289.8,463.6 L1290.6,477.4 L1291.4,476.8 L1292.2,474.5 L1293,463.5 L1293.8,463.7 L1294.6,457.5 L1295.4,467.9 L1296.2,464.9 L1297,458.4 L1297.8,445.3 L1298.6,447.8 L1299.4,459.6 L1300.2,442.9 L1301,456.9 L1301.8,442.9 L1302.6,442.8 L1303.4,442.5 L1304.2,455.1 L1305,455.3 L1305.8,440.9 L1306.6,454.8 L1307.4,440.9 L1308.2,458.1 L1309,453.8 L1309.8,445.9 L1310.6,458.9 L1311.4,463.2 L1312.2,467.5 L1313,470.2 L1313.8,473.2 L1314.6,463.4 L1315.4,469.8 L1316.2,480.5 L1317,480.4 L1317.8,486.1 L1318.6,487.5 L1319.4,487.6 L1320.2,487.9 L1321,500.4 L1321.8,500.6 L1322.6,503.3 L1323.4,504.6 L1324.2,505.5 L1325,506 L1325.8,509.8 L1326.6,510.2 L1327.4,510.4 L1328.2,512.3 L1329,510.9 L1329.8,506.5 L1330.6,513 L1331.4,515.8 L1332.2,512.5 L1333,514.3 L1333.8,515.6 L1334.6,516.1 L1335.4,513.6 L1336.2,516.7 L1337,504.7 L1337.8,517.9 L1338.6,519.3 L1339.4,520 L1340.2,520.6 L1341,522.3 L1341.8,515.7 L1342.6,517.5 L1343.4,511.4 L1344.2,522.9 L1345,521.2 L1345.8,525.9 L1346.6,526.2 L1347.4,521.9 L1348.2,531.2 L1349,517.7 L1349.8,532.8 L1350.6,531.4 L1351.4,520.4 L1352.2,535.9 L1353,524.8 L1353.8,536.9 L1354.6,539.6 L1355.4,537.7 L1356.2,535.7 L1357,536.9 L1357.8,536.1 L1358.6,519.2 L1359.4,532 L1360.2,533.9 L1361,533.7 L1361.8,527.5 L1362.6,527.4 L1363.4,532 L1364.2,530.4 L1365,531.5 L1365.8,530.3 L1366.6,529 L1367.4,525.8 L1368.2,530.3 L1369,520.1 L1369.8,527.9 L1370.6,513.7 L1371.4,519.5 L1372.2,514.5 L1373,530.1 L1373.8,518.4 L1374.6,529.5 L1375.4,523.7 L1376.2,531 L1377,532.8 L1377.8,532.9 L1378.6,526.2 L1379.4,533.4 L1380.2,532.7 L1381,517.2 L1381.8,529.8 L1382.6,526.9 L1383.4,509.1 L1384.2,522.7 L1385,521.9 L1385.8,503.6 L1386.6,518.4 L1387.4,510.2 L1388.2,504.6 L1389,505.1 L1389.8,494.7 L1390.6,503.9 L1391.4,501.5 L1392.2,496.9 L1393,490.7 L1393.8,493.2 L1394.6,490.6 L1395.4,489.1 L1396.2,478 L1397,489 L1397.8,478.1 L1398.6,482.2 L1399.4,471.4 L1400.2,481.6 L1401,475.7 L1401.8,464.7 L1402.6,476.5 L1403.4,478.9 L1404.2,475.3 L1405,471.7 L1405.8,465.4 L1406.6,467.7 L1407.4,472.9 L1408.2,470.3 L1409,455.6 L1409.8,462.5 L1410.6,450.1 L1411.4,462.7 L1412.2,462.8 L1413,452.1 L1413.8,460.3 L1414.6,443.8 L1415.4,440.2 L1416.2,455.3 L1417,438 L1417.8,437.8 L1418.6,440.3 L1419.4,446.5 L1420.2,439.6 L1421,433.7 L1421.8,446 L1422.6,443.2 L1423.4,431.7 L1424.2,432.6 L1425,439.1 L1425.8,442.1 L1426.6,442.9 L1427.4,439.5 L1428.2,444.8 L1429,443.5 L1429.8,445.5 L1430.6,447 L1431.4,441.1 L1432.2,437 L1433,450 L1433.8,452.8 L1434.6,452.3 L1435.4,448.9 L1436.2,446.5 L1437,456.4 L1437.8,455 L1438.6,457.8 L1439.4,459 L1440.2,457.5 L1441,459.7 L1441.8,459.3 L1442.6,450.7 L1443.4,455.7 L1444.2,456 L1445,455.9 L1445.8,455 L1446.6,446.6 L1447.4,453.2 L1448.2,452.5 L1449,447.5 L1449.8,445.7 L1450.6,431.7 L1451.4,446.9 L1452.2,444.2 L1453,434 L1453.8,437.1 L1454.6,440.6 L1455.4,435.8 L1456.2,437.9 L1457,431.9 L1457.8,436.9 L1458.6,437 L1459.4,431.2 L1460.2,420.2 L1461,430 L1461.8,430.6 L1462.6,436.9 L1463.4,433.5 L1464.2,433.9 L1465,426.1 L1465.8,437.5 L1466.6,429.1 L1467.4,440.9 L1468.2,442.6 L1469,428.1 L1469.8,430.7 L1470.6,446.1 L1471.4,445.6 L1472.2,446.6 L1473,438.3 L1473.8,446.2 L1474.6,444.4 L1475.4,450.1 L1476.2,443.7 L1477,452.1 L1477.8,452.9 L1478.6,439.8 L1479.4,452.1 L1480.2,442.5 L1481,444.5 L1481.8,434.9 L1482.6,448.9 L1483.4,445 L1484.2,439.3 L1485,446.9 L1485.8,445.3 L1486.6,439.1 L1487.4,438.2 L1488.2,438.4 L1489,431.7 L1489.8,427.5 L1490.6,425.2 L1491.4,413.2 L1492.2,428.9 L1493,427.6 L1493.8,408.1 L1494.6,423.9 L1495.4,408.6 L1496.2,409.4 L1497,407.5 L1497.8,420.8 L1498.6,418.5 L1499.4,413.6 L1500.2,417 L1501,415.1 L1501.8,412.2 L1502.6,395.9 L1503.4,406.3 L1504.2,403.5 L1505,406 L1505.8,405.1 L1506.6,402.8 L1507.4,418.4 L1508.2,403.4 L1509,413.3 L1509.8,416.6 L1510.6,421.5 L1511.4,422.2 L1512.2,424.7 L1513,407.9 L1513.8,426.4 L1514.6,410.6 L1515.4,429.4 L1516.2,430.7 L1517,414.8 L1517.8,431.3 L1518.6,433.4 L1519.4,430.7 L1520.2,436.1 L1521,437.3 L1521.8,437.7 L1522.6,428.4 L1523.4,428.4 L1524.2,439.2 L1525,435.9 L1525.8,445.5 L1526.6,449 L1527.4,433.7 L1528.2,445.5 L1529,452.4 L1529.8,455.1 L1530.6,459.2 L1531.4,461.5 L1532.2,447.8 L1533,466.8 L1533.8,464.8 L1534.6,471.6 L1535.4,474.1 L1536.2,477.6 L1537,466.6 L1537.8,476.3 L1538.6,487.6 L1539.4,489.9 L1540.2,474.5 L1541,494.1 L1541.8,499 L1542.6,499.7 L1543.4,500.3 L1544.2,501.3 L1545,493.3 L1545.8,485 L1546.6,483.6 L1547.4,498.5 L1548.2,483.9 L1549,498.7 L1549.8,491.5 L1550.6,495.4 L1551.4,493.2 L1552.2,490.8 L1553,488.3 L1553.8,486.1 L1554.6,484.2 L1555.4,477.9 L1556.2,479.1 L1557,476.3 L1557.8,464.9 L1558.6,454.9 L1559.4,469.8 L1560.2,465.2 L1561,466.8 L1561.8,466 L1562.6,463.7 L1563.4,450.5 L1564.2,459 L1565,456.6 L1565.8,454.7 L1566.6,452.3 L1567.4,452.5 L1568.2,443.5 L1569,450.5 L1569.8,444.5 L1570.6,438.2 L1571.4,437.3 L1572.2,445.9 L1573,426.9 L1573.8,441.4 L1574.6,440.2 L1575.4,439.2 L1576.2,427.9 L1577,438.5 L1577.8,437.6 L1578.6,435.4 L1579.4,433.2 L1580.2,433.1 L1581,429.6 L1581.8,419.4 L1582.6,428.3 L1583.4,415.1 L1584.2,424.1 L1585,425.6 L1585.8,408.7 L1586.6,417.2 L1587.4,407.1 L1588.2,402.3 L1589,419.4 L1589.8,414.7 L1590.6,417.6 L1591.4,412.3 L1592.2,423.3 L1593,424.7 L1593.8,409 L1594.6,416.4 L1595.4,428.6 L1596.2,414.4 L1597,432.1 L1597.8,435.6 L1598.6,432.2 L1599.4,444.2 L1600.2,447.1 L1601,437 L1601.8,452 L1602.6,454.6 L1603.4,457.1 L1604.2,449.5 L1605,453.8 L1605.8,465 L1606.6,453.6 L1607.4,468.9 L1608.2,471.8 L1609,458.4 L1609.8,474.3 L1610.6,473 L1611.4,475.4 L1612.2,474.9 L1613,475.2 L1613.8,476.7 L1614.6,476.4 L1615.4,469.6 L1616.2,475.6 L1617,476.7 L1617.8,479 L1618.6,462.4 L1619.4,466 L1620.2,477.3 L1621,477.1 L1621.8,475 L1622.6,463.3 L1623.4,470.9 L1624.2,479.8 L1625,474.5 L1625.8,464.3 L1626.6,472.9 L1627.4,475.6 L1628.2,474.8 L1629,481.9 L1629.8,481.8 L1630.6,489.5 L1631.4,484.6 L1632.2,483.3 L1633,492.2 L1633.8,493 L1634.6,474 L1635.4,491.8 L1636.2,484.8 L1637,493.4 L1637.8,494 L1638.6,494.1 L1639.4,483.2 L1640.2,492.5 L1641,492.9 L1641.8,492.4 L1642.6,482.3 L1643.4,479.1 L1644.2,475.9 L1645,484.3 L1645.8,490.1 L1646.6,480.6 L1647.4,486.4 L1648.2,471.3 L1649,473.3 L1649.8,486.8 L1650.6,477.1 L1651.4,487.1 L1652.2,485 L1653,487.7 L1653.8,478.7 L1654.6,486.7 L1655.4,487.3 L1656.2,485.9 L1657,480.8 L1657.8,486.6 L1658.6,485.5 L1659.4,487.4 L1660.2,487.2 L1661,482.4 L1661,589.7 L1660.2,590 L1659.4,598.5 L1658.6,589.8 L1657.8,590 L1657,600.6 L1656.2,594 L1655.4,589.8 L1654.6,601.5 L1653.8,587.9 L1653,589.8 L1652.2,592.7 L1651.4,586.9 L1650.6,593 L1649.8,586.9 L1649,588.8 L1648.2,598.5 L1647.4,588 L1646.6,596 L1645.8,590.2 L1645,594 L1644.2,602.2 L1643.4,591.5 L1642.6,597.2 L1641.8,593.9 L1641,594.2 L1640.2,595.3 L1639.4,593.5 L1638.6,594.3 L1637.8,607.5 L1637,592.8 L1636.2,603.9 L1635.4,592.4 L1634.6,592.4 L1633.8,591.1 L1633,592.1 L1632.2,590.7 L1631.4,592.9 L1630.6,589.8 L1629.8,586.3 L1629,586.6 L1628.2,584.6 L1627.4,585 L1626.6,583.7 L1625.8,582.5 L1625,580.4 L1624.2,582.1 L1623.4,579.1 L1622.6,580.5 L1621.8,579 L1621,580.1 L1620.2,578.4 L1619.4,577.9 L1618.6,578.9 L1617.8,577.6 L1617,578.5 L1616.2,588.3 L1615.4,575.2 L1614.6,576.7 L1613.8,587.4 L1613,575.5 L1612.2,575.9 L1611.4,574.4 L1610.6,571.9 L1609.8,584.5 L1609,571.4 L1608.2,579.2 L1607.4,578.4 L1606.6,569.9 L1605.8,573 L1605,561.8 L1604.2,563.6 L1603.4,555.1 L1602.6,551.7 L1601.8,549.2 L1601,551.4 L1600.2,542.1 L1599.4,540.3 L1598.6,540 L1597.8,543.2 L1597,544.9 L1596.2,525 L1595.4,523 L1594.6,521.4 L1593.8,518.2 L1593,521 L1592.2,515.8 L1591.4,522.9 L1590.6,517.8 L1589.8,523.7 L1589,510.4 L1588.2,510.7 L1587.4,519.3 L1586.6,519.8 L1585.8,513.1 L1585,513.8 L1584.2,517.4 L1583.4,517 L1582.6,518.4 L1581.8,529.7 L1581,532.8 L1580.2,521.9 L1579.4,523.4 L1578.6,523.1 L1577.8,538.6 L1577,525.5 L1576.2,527.2 L1575.4,527.1 L1574.6,535.1 L1573.8,530.1 L1573,532.7 L1572.2,533.4 L1571.4,534.1 L1570.6,533.6 L1569.8,534.3 L1569,546.4 L1568.2,547 L1567.4,538.3 L1566.6,539.9 L1565.8,540.2 L1565,541.5 L1564.2,555.8 L1563.4,545.3 L1562.6,559.9 L1561.8,550 L1561,549.5 L1560.2,559.3 L1559.4,554.3 L1558.6,557.1 L1557.8,571 L1557,562.6 L1556.2,571.7 L1555.4,565.3 L1554.6,566.4 L1553.8,568.6 L1553,570.9 L1552.2,572.4 L1551.4,583.4 L1550.6,578.1 L1549.8,585.8 L1549,581.1 L1548.2,583 L1547.4,582.4 L1546.6,582.9 L1545.8,581.2 L1545,581.5 L1544.2,585.7 L1543.4,582.3 L1542.6,581.3 L1541.8,591 L1541,575.9 L1540.2,586.1 L1539.4,582.1 L1538.6,568.4 L1537.8,580.5 L1537,567.1 L1536.2,559.3 L1535.4,557.8 L1534.6,553.1 L1533.8,560.3 L1533,549.2 L1532.2,553.2 L1531.4,556.7 L1530.6,540.2 L1529.8,539.6 L1529,541.6 L1528.2,534.5 L1527.4,531.7 L1526.6,531.4 L1525.8,530.6 L1525,540.9 L1524.2,532.8 L1523.4,525.5 L1522.6,523.4 L1521.8,532.3 L1521,534.1 L1520.2,528.6 L1519.4,516.4 L1518.6,516.6 L1517.8,527.7 L1517,514.5 L1516.2,511.8 L1515.4,513.8 L1514.6,510.9 L1513.8,510.5 L1513,516.9 L1512.2,506.2 L1511.4,506 L1510.6,513.7 L1509.8,504.7 L1509,510 L1508.2,504.3 L1507.4,504.8 L1506.6,507.1 L1505.8,498.6 L1505,497.6 L1504.2,497.5 L1503.4,505.5 L1502.6,496 L1501.8,500.7 L1501,507.7 L1500.2,512.4 L1499.4,501.7 L1498.6,502.4 L1497.8,503.6 L1497,505.5 L1496.2,507.7 L1495.4,515.9 L1494.6,508.2 L1493.8,510.6 L1493,511.5 L1492.2,511.9 L1491.4,515.1 L1490.6,518.1 L1489.8,529.5 L1489,521.6 L1488.2,522.7 L1487.4,523.9 L1486.6,538.9 L1485.8,527.2 L1485,532.4 L1484.2,530.9 L1483.4,533 L1482.6,531.4 L1481.8,533.6 L1481,538.4 L1480.2,547.8 L1479.4,535 L1478.6,536.9 L1477.8,535.6 L1477,535.8 L1476.2,535.1 L1475.4,532.2 L1474.6,530.4 L1473.8,530.5 L1473,536.8 L1472.2,529.4 L1471.4,527.4 L1470.6,527.7 L1469.8,525.1 L1469,534.1 L1468.2,524.3 L1467.4,523.6 L1466.6,535.8 L1465.8,532.6 L1465,520.4 L1464.2,531.8 L1463.4,528.3 L1462.6,519.6 L1461.8,517.7 L1461,517.9 L1460.2,519.4 L1459.4,530.9 L1458.6,518.1 L1457.8,519.1 L1457,528.3 L1456.2,522 L1455.4,523.1 L1454.6,528.8 L1453.8,528.8 L1453,525 L1452.2,541.3 L1451.4,528.5 L1450.6,534.1 L1449.8,531.8 L1449,531.1 L1448.2,532.1 L1447.4,543.5 L1446.6,534.4 L1445.8,549.3 L1445,535.7 L1444.2,536.9 L1443.4,545.6 L1442.6,551 L1441.8,539.2 L1441,540.7 L1440.2,538.1 L1439.4,537 L1438.6,538.2 L1437.8,534.8 L1437,533.9 L1436.2,535.5 L1435.4,534.2 L1434.6,533.4 L1433.8,530.9 L1433,542.8 L1432.2,530.3 L1431.4,539.9 L1430.6,526.8 L1429.8,526.1 L1429,526.5 L1428.2,523.9 L1427.4,529.3 L1426.6,538.1 L1425.8,522.6 L1425,523.5 L1424.2,523.1 L1423.4,523.7 L1422.6,523 L1421.8,533.6 L1421,525.3 L1420.2,527.3 L1419.4,531.2 L1418.6,530.3 L1417.8,532 L1417,530.9 L1416.2,539.5 L1415.4,533.5 L1414.6,536.2 L1413.8,539.4 L1413,540.9 L1412.2,542.5 L1411.4,541.3 L1410.6,554.9 L1409.8,544.1 L1409,548.1 L1408.2,557.7 L1407.4,550.4 L1406.6,550.5 L1405.8,552.1 L1405,551 L1404.2,560.9 L1403.4,552.5 L1402.6,555.2 L1401.8,553.5 L1401,556.3 L1400.2,556.9 L1399.4,557.1 L1398.6,560.3 L1397.8,562.8 L1397,560.6 L1396.2,563.1 L1395.4,569.3 L1394.6,566.4 L1393.8,566.1 L1393,567.8 L1392.2,569.5 L1391.4,572.5 L1390.6,574.5 L1389.8,578.5 L1389,581 L1388.2,591 L1387.4,584.9 L1386.6,595 L1385.8,588.1 L1385,588.2 L1384.2,593.4 L1383.4,593.7 L1382.6,594.1 L1381.8,603.4 L1381,599.8 L1380.2,602.1 L1379.4,609.8 L1378.6,599.2 L1377.8,599.2 L1377,610.6 L1376.2,597.4 L1375.4,598.7 L1374.6,597.1 L1373.8,607.3 L1373,595.9 L1372.2,595.8 L1371.4,597.6 L1370.6,595.6 L1369.8,601.6 L1369,596.5 L1368.2,597.1 L1367.4,596 L1366.6,610.9 L1365.8,611.6 L1365,604.3 L1364.2,598.3 L1363.4,602.8 L1362.6,598.1 L1361.8,598.3 L1361,604.9 L1360.2,613.3 L1359.4,602.7 L1358.6,604.8 L1357.8,604.2 L1357,609.3 L1356.2,612.1 L1355.4,606.7 L1354.6,616.1 L1353.8,608.8 L1353,617.9 L1352.2,606.2 L1351.4,606.3 L1350.6,620.1 L1349.8,607.3 L1349,618.5 L1348.2,606.7 L1347.4,605.7 L1346.6,604.9 L1345.8,616.5 L1345,601.3 L1344.2,601.6 L1343.4,615.5 L1342.6,600 L1341.8,599.4 L1341,599.8 L1340.2,598.2 L1339.4,597.3 L1338.6,607.4 L1337.8,594.6 L1337,595.8 L1336.2,608.6 L1335.4,596.7 L1334.6,595.1 L1333.8,598.2 L1333,594.8 L1332.2,593.3 L1331.4,593.4 L1330.6,602 L1329.8,595.1 L1329,592.2 L1328.2,593.8 L1327.4,590 L1326.6,602.5 L1325.8,589.7 L1325,586.4 L1324.2,586.4 L1323.4,583.8 L1322.6,594.6 L1321.8,596.3 L1321,593.2 L1320.2,591.8 L1319.4,573.4 L1318.6,568 L1317.8,564.8 L1317,561.5 L1316.2,569.1 L1315.4,555.3 L1314.6,552 L1313.8,552.3 L1313,547.2 L1312.2,552.7 L1311.4,544.6 L1310.6,552.8 L1309.8,543.9 L1309,535.8 L1308.2,548.2 L1307.4,537.6 L1306.6,545.3 L1305.8,537.8 L1305,542 L1304.2,534.7 L1303.4,533.9 L1302.6,535.9 L1301.8,536.4 L1301,536.2 L1300.2,538.9 L1299.4,539.1 L1298.6,541.8 L1297.8,541.6 L1297,544.5 L1296.2,545.5 L1295.4,547.3 L1294.6,551.5 L1293.8,550.1 L1293,553.5 L1292.2,554.7 L1291.4,557.6 L1290.6,570.8 L1289.8,560.1 L1289,564.8 L1288.2,560.4 L1287.4,562.4 L1286.6,564.3 L1285.8,565.1 L1285,581.4 L1284.2,567.1 L1283.4,581.8 L1282.6,569.5 L1281.8,570.1 L1281,573.7 L1280.2,573.2 L1279.4,575.8 L1278.6,577.4 L1277.8,576.7 L1277,580.1 L1276.2,582.3 L1275.4,584 L1274.6,595.4 L1273.8,587.8 L1273,591.3 L1272.2,599.8 L1271.4,595.4 L1270.6,595.1 L1269.8,599.6 L1269,611 L1268.2,605.3 L1267.4,614.9 L1266.6,606.4 L1265.8,606 L1265,609.3 L1264.2,620.9 L1263.4,608.8 L1262.6,613.8 L1261.8,620.8 L1261,607 L1260.2,616.6 L1259.4,604.6 L1258.6,601.2 L1257.8,605.3 L1257,609.2 L1256.2,593.9 L1255.4,592.7 L1254.6,597.3 L1253.8,587.8 L1253,595.1 L1252.2,582.7 L1251.4,593.4 L1250.6,576 L1249.8,573.7 L1249,571.2 L1248.2,576.2 L1247.4,568.6 L1246.6,565.2 L1245.8,572.9 L1245,568.4 L1244.2,559.7 L1243.4,556.6 L1242.6,555.2 L1241.8,555.8 L1241,555.6 L1240.2,559.5 L1239.4,550.6 L1238.6,548.6 L1237.8,546.4 L1237,546.1 L1236.2,545.3 L1235.4,542.5 L1234.6,543.3 L1233.8,555.1 L1233,553.8 L1232.2,537.5 L1231.4,551.4 L1230.6,534.6 L1229.8,534.2 L1229,532.3 L1228.2,539.5 L1227.4,531.6 L1226.6,528.9 L1225.8,529.3 L1225,529.2 L1224.2,541.2 L1223.4,526.7 L1222.6,538.4 L1221.8,523.4 L1221,522.8 L1220.2,536.6 L1219.4,538.7 L1218.6,525 L1217.8,531.2 L1217,526.7 L1216.2,529.9 L1215.4,534.3 L1214.6,528.8 L1213.8,526.2 L1213,531.8 L1212.2,529.1 L1211.4,533.9 L1210.6,543.1 L1209.8,545.4 L1209,536.5 L1208.2,539.1 L1207.4,540 L1206.6,542.7 L1205.8,555.7 L1205,561 L1204.2,553.8 L1203.4,548.8 L1202.6,551.5 L1201.8,563.7 L1201,554.7 L1200.2,556.8 L1199.4,563.3 L1198.6,558.3 L1197.8,567 L1197,560.9 L1196.2,562.8 L1195.4,563.1 L1194.6,561.5 L1193.8,563.9 L1193,563.6 L1192.2,566.4 L1191.4,565.8 L1190.6,565.1 L1189.8,568 L1189,565.7 L1188.2,556.4 L1187.4,556.1 L1186.6,569.8 L1185.8,561.2 L1185,564.8 L1184.2,554.9 L1183.4,552.1 L1182.6,562.5 L1181.8,563.1 L1181,557.6 L1180.2,547.8 L1179.4,547.5 L1178.6,546.9 L1177.8,551.7 L1177,558.2 L1176.2,550.1 L1175.4,546.8 L1174.6,547.6 L1173.8,548.1 L1173,549 L1172.2,549.9 L1171.4,548.6 L1170.6,558.4 L1169.8,566.2 L1169,553 L1168.2,553.7 L1167.4,557.5 L1166.6,567.2 L1165.8,566.5 L1165,567.1 L1164.2,561.7 L1163.4,560.9 L1162.6,561.8 L1161.8,573.8 L1161,564.3 L1160.2,578 L1159.4,565.7 L1158.6,566.9 L1157.8,566.4 L1157,578.9 L1156.2,569.3 L1155.4,574.2 L1154.6,577.5 L1153.8,563.9 L1153,568.3 L1152.2,561 L1151.4,571.5 L1150.6,561.5 L1149.8,561.5 L1149,570.9 L1148.2,556.4 L1147.4,554.9 L1146.6,558.4 L1145.8,553.2 L1145,562.6 L1144.2,552.1 L1143.4,562 L1142.6,556 L1141.8,564.2 L1141,552.3 L1140.2,552.6 L1139.4,550.9 L1138.6,552.8 L1137.8,555.9 L1137,553.2 L1136.2,553.4 L1135.4,559.4 L1134.6,556.6 L1133.8,558.4 L1133,557.9 L1132.2,559.7 L1131.4,575.1 L1130.6,561.7 L1129.8,563.8 L1129,565.2 L1128.2,574.7 L1127.4,568.6 L1126.6,585 L1125.8,572.6 L1125,586.6 L1124.2,575.8 L1123.4,575.6 L1122.6,575.7 L1121.8,590.1 L1121,588.9 L1120.2,578.8 L1119.4,590.1 L1118.6,582.3 L1117.8,582.4 L1117,588.4 L1116.2,588.4 L1115.4,584.7 L1114.6,586.6 L1113.8,585.8 L1113,589.4 L1112.2,590.4 L1111.4,594.9 L1110.6,602.2 L1109.8,596.1 L1109,595.8 L1108.2,604.9 L1107.4,599.6 L1106.6,601.9 L1105.8,612.5 L1105,607.7 L1104.2,607.2 L1103.4,611.9 L1102.6,617.5 L1101.8,613.8 L1101,632 L1100.2,618.7 L1099.4,626.2 L1098.6,622.9 L1097.8,631.1 L1097,629.1 L1096.2,628 L1095.4,637.5 L1094.6,631.2 L1093.8,634 L1093,648.8 L1092.2,643.4 L1091.4,645.8 L1090.6,636.6 L1089.8,637.7 L1089,636.7 L1088.2,649 L1087.4,644.9 L1086.6,650.5 L1085.8,637.5 L1085,635.6 L1084.2,636.1 L1083.4,642.2 L1082.6,650.3 L1081.8,643.5 L1081,633.6 L1080.2,633.9 L1079.4,633.8 L1078.6,646.7 L1077.8,635.9 L1077,636.4 L1076.2,650.2 L1075.4,645.5 L1074.6,639.2 L1073.8,637.4 L1073,639.4 L1072.2,638.4 L1071.4,639.2 L1070.6,652.5 L1069.8,641.4 L1069,646.2 L1068.2,639.1 L1067.4,638.3 L1066.6,638.6 L1065.8,641.6 L1065,637.4 L1064.2,635.1 L1063.4,641.6 L1062.6,633 L1061.8,634 L1061,635.1 L1060.2,630.9 L1059.4,632.1 L1058.6,628.7 L1057.8,628.2 L1057,637 L1056.2,626.3 L1055.4,633.5 L1054.6,622.2 L1053.8,626.9 L1053,626 L1052.2,625.9 L1051.4,619.1 L1050.6,618.9 L1049.8,617.2 L1049,617.2 L1048.2,618.2 L1047.4,617 L1046.6,617.2 L1045.8,628.3 L1045,614.3 L1044.2,614.6 L1043.4,621.7 L1042.6,611.4 L1041.8,613.4 L1041,607.7 L1040.2,605.6 L1039.4,603 L1038.6,602.9 L1037.8,599.3 L1037,598.2 L1036.2,603.6 L1035.4,590.5 L1034.6,587.1 L1033.8,584.4 L1033,581 L1032.2,577.1 L1031.4,587.2 L1030.6,583.3 L1029.8,564.5 L1029,571.5 L1028.2,560.8 L1027.4,571.8 L1026.6,556.1 L1025.8,552.5 L1025,564.5 L1024.2,553.8 L1023.4,546.9 L1022.6,543.8 L1021.8,544.4 L1021,543.2 L1020.2,540.1 L1019.4,540 L1018.6,541.5 L1017.8,541.1 L1017,542.4 L1016.2,543.9 L1015.4,543.6 L1014.6,544.9 L1013.8,547.1 L1013,546.9 L1012.2,548.7 L1011.4,555.7 L1010.6,565.9 L1009.8,565 L1009,560.5 L1008.2,555.1 L1007.4,560.9 L1006.6,572.1 L1005.8,559.3 L1005,562.2 L1004.2,567.2 L1003.4,563.7 L1002.6,562.9 L1001.8,575 L1001,571.6 L1000.2,568.2 L999.4,581.9 L998.6,570.1 L997.8,570.5 L997,580.9 L996.2,572.1 L995.4,571.9 L994.6,573.1 L993.8,573.9 L993,577.7 L992.2,576.6 L991.4,584.3 L990.6,588.5 L989.8,581.6 L989,593.3 L988.2,595.2 L987.4,587.6 L986.6,590.3 L985.8,596.3 L985,604.6 L984.2,599.5 L983.4,601.9 L982.6,609.1 L981.8,604.4 L981,613.5 L980.2,612.4 L979.4,606.3 L978.6,605.9 L977.8,607.8 L977,620.7 L976.2,613.2 L975.4,605.5 L974.6,600.6 L973.8,603.2 L973,595.7 L972.2,601.4 L971.4,606.1 L970.6,587.2 L969.8,586.4 L969,583.2 L968.2,590.9 L967.4,578.7 L966.6,583.3 L965.8,572.8 L965,568.3 L964.2,579.7 L963.4,564.1 L962.6,560.3 L961.8,559.1 L961,557.7 L960.2,554.2 L959.4,553.8 L958.6,550.1 L957.8,547.7 L957,546.5 L956.2,543.8 L955.4,542.5 L954.6,540.2 L953.8,543.9 L953,552.3 L952.2,535 L951.4,541.9 L950.6,533.1 L949.8,545.4 L949,528.1 L948.2,527.1 L947.4,528.9 L946.6,525.9 L945.8,526.7 L945,522.5 L944.2,522.6 L943.4,520.1 L942.6,517.1 L941.8,518.4 L941,525.7 L940.2,513 L939.4,512.3 L938.6,513.8 L937.8,512.5 L937,522.3 L936.2,511.4 L935.4,508.4 L934.6,508 L933.8,508.5 L933,507.9 L932.2,507.8 L931.4,510 L930.6,510.6 L929.8,515.5 L929,512.4 L928.2,511.4 L927.4,518.2 L926.6,514.4 L925.8,515 L925,515.3 L924.2,516 L923.4,519.8 L922.6,522 L921.8,527.2 L921,525.9 L920.2,532.5 L919.4,528.2 L918.6,531.1 L917.8,532.7 L917,533.1 L916.2,533.6 L915.4,534.6 L914.6,534.2 L913.8,542.7 L913,538.5 L912.2,544.7 L911.4,551.9 L910.6,546.2 L909.8,539.3 L909,537.5 L908.2,536.7 L907.4,549.7 L906.6,534.5 L905.8,536.3 L905,533.3 L904.2,546.4 L903.4,533 L902.6,535.1 L901.8,530.9 L901,529.9 L900.2,539.1 L899.4,527.4 L898.6,529.5 L897.8,527.1 L897,526.2 L896.2,536.3 L895.4,524.6 L894.6,524 L893.8,520.3 L893,528.3 L892.2,521.7 L891.4,530.9 L890.6,533.3 L889.8,520.4 L889,523.1 L888.2,523.3 L887.4,524.7 L886.6,528.5 L885.8,535 L885,525.8 L884.2,524.6 L883.4,528.2 L882.6,527.3 L881.8,537.9 L881,528.4 L880.2,530.1 L879.4,540.1 L878.6,546.5 L877.8,534.1 L877,534.1 L876.2,538 L875.4,541.4 L874.6,538.1 L873.8,537.8 L873,537.9 L872.2,535.1 L871.4,534.8 L870.6,535.3 L869.8,532.9 L869,533.5 L868.2,536.1 L867.4,546 L866.6,529.9 L865.8,528.4 L865,526.5 L864.2,523.1 L863.4,532.4 L862.6,521.8 L861.8,530.8 L861,518.8 L860.2,532.3 L859.4,523.7 L858.6,530.8 L857.8,528.5 L857,516.6 L856.2,515.6 L855.4,515.2 L854.6,514.2 L853.8,516.1 L853,526.2 L852.2,522.7 L851.4,517.7 L850.6,517.4 L849.8,520.1 L849,520.1 L848.2,520.1 L847.4,536.3 L846.6,524.3 L845.8,537.6 L845,540.4 L844.2,527.9 L843.4,542.8 L842.6,530.2 L841.8,533.1 L841,536.6 L840.2,539.3 L839.4,535.6 L838.6,537.9 L837.8,546.3 L837,537.6 L836.2,537.4 L835.4,543.4 L834.6,536.6 L833.8,537.7 L833,539 L832.2,541.1 L831.4,540.7 L830.6,557.3 L829.8,545.7 L829,546.9 L828.2,547.5 L827.4,548.5 L826.6,556.1 L825.8,551.7 L825,553.6 L824.2,556.4 L823.4,565.8 L822.6,559.7 L821.8,562.3 L821,564.8 L820.2,567.9 L819.4,568.7 L818.6,571.8 L817.8,578 L817,576.3 L816.2,578.6 L815.4,581.8 L814.6,594.2 L813.8,586 L813,590.5 L812.2,599.2 L811.4,603.6 L810.6,608.5 L809.8,607.7 L809,594.6 L808.2,590.8 L807.4,596.9 L806.6,590.1 L805.8,590.6 L805,589.6 L804.2,592 L803.4,589.4 L802.6,589.3 L801.8,603.1 L801,589.5 L800.2,591.3 L799.4,605.4 L798.6,590.8 L797.8,590 L797,589.8 L796.2,591.2 L795.4,592.4 L794.6,603.1 L793.8,596.9 L793,604.7 L792.2,591.8 L791.4,594.9 L790.6,594.8 L789.8,599.4 L789,602.3 L788.2,596.7 L787.4,598.3 L786.6,608.6 L785.8,603.4 L785,609.9 L784.2,600.7 L783.4,600.5 L782.6,610.2 L781.8,599.5 L781,609.5 L780.2,606.1 L779.4,596.3 L778.6,602.1 L777.8,602.3 L777,593.2 L776.2,595.8 L775.4,596.3 L774.6,602 L773.8,590.7 L773,589.2 L772.2,590.8 L771.4,594 L770.6,586.2 L769.8,585.7 L769,584.1 L768.2,585.1 L767.4,594.7 L766.6,585.9 L765.8,597.4 L765,586.7 L764.2,585.4 L763.4,586.7 L762.6,588.4 L761.8,590.4 L761,586.4 L760.2,593.7 L759.4,593.4 L758.6,588.1 L757.8,597.9 L757,594.4 L756.2,589 L755.4,587.4 L754.6,598 L753.8,583.9 L753,582 L752.2,580.5 L751.4,585.2 L750.6,590.9 L749.8,575.1 L749,572.5 L748.2,584.9 L747.4,566.8 L746.6,564.8 L745.8,561.5 L745,571.1 L744.2,555.3 L743.4,554.6 L742.6,554.6 L741.8,549 L741,546.7 L740.2,544.2 L739.4,543.4 L738.6,542 L737.8,542.7 L737,555.4 L736.2,541.1 L735.4,555.5 L734.6,541.3 L733.8,541.7 L733,541.8 L732.2,541.5 L731.4,543.4 L730.6,543.2 L729.8,548 L729,548 L728.2,548.9 L727.4,550.1 L726.6,553 L725.8,561.3 L725,555.9 L724.2,557.2 L723.4,571.4 L722.6,563.5 L721.8,562.3 L721,563.8 L720.2,565.6 L719.4,581.8 L718.6,571.3 L717.8,569.2 L717,571.9 L716.2,571.5 L715.4,582.2 L714.6,574.4 L713.8,577.4 L713,578.9 L712.2,589.6 L711.4,589.8 L710.6,586.5 L709.8,582.9 L709,585.5 L708.2,586.7 L707.4,603.4 L706.6,592.1 L705.8,593.2 L705,596.3 L704.2,610.4 L703.4,598.8 L702.6,602.5 L701.8,607.6 L701,605.3 L700.2,610.2 L699.4,612 L698.6,626.4 L697.8,617.2 L697,629.3 L696.2,626.3 L695.4,624 L694.6,637.8 L693.8,625 L693,630.8 L692.2,623.1 L691.4,630.7 L690.6,621.7 L689.8,620.9 L689,628.7 L688.2,628.6 L687.4,621.8 L686.6,611.3 L685.8,608.3 L685,607.1 L684.2,602.1 L683.4,598.4 L682.6,596.6 L681.8,603.5 L681,589 L680.2,594.9 L679.4,585.2 L678.6,589.7 L677.8,587.5 L677,578.7 L676.2,576.4 L675.4,572.8 L674.6,573.8 L673.8,569.3 L673,567.9 L672.2,578.9 L671.4,568.1 L670.6,563.1 L669.8,566.9 L669,561.7 L668.2,560.5 L667.4,568.9 L666.6,558.3 L665.8,567.5 L665,557.7 L664.2,565.1 L663.4,554.1 L662.6,555 L661.8,554.4 L661,554.2 L660.2,551.9 L659.4,550.7 L658.6,554.9 L657.8,551.4 L657,549.1 L656.2,548.4 L655.4,553.6 L654.6,549 L653.8,547.3 L653,547.9 L652.2,546.1 L651.4,548.6 L650.6,558.2 L649.8,548.4 L649,548.8 L648.2,556 L647.4,562.4 L646.6,565 L645.8,552.1 L645,561 L644.2,555.3 L643.4,558.2 L642.6,563.4 L641.8,560.1 L641,560.6 L640.2,562.3 L639.4,564.2 L638.6,567 L637.8,579 L637,580.9 L636.2,586.1 L635.4,575.1 L634.6,583.8 L633.8,582.1 L633,590.5 L632.2,581.7 L631.4,581.8 L630.6,584.2 L629.8,584.4 L629,597.7 L628.2,594.3 L627.4,597.5 L626.6,594.3 L625.8,592 L625,593.6 L624.2,591.7 L623.4,591.8 L622.6,591.4 L621.8,591.2 L621,596.1 L620.2,589.7 L619.4,589.2 L618.6,587.6 L617.8,587.3 L617,586.2 L616.2,587.6 L615.4,593.5 L614.6,584.7 L613.8,584 L613,583.7 L612.2,597.1 L611.4,582.9 L610.6,582.5 L609.8,580.5 L609,593.6 L608.2,585.9 L607.4,579.9 L606.6,580.2 L605.8,590.4 L605,582.5 L604.2,593.8 L603.4,583.4 L602.6,589 L601.8,584.3 L601,585.2 L600.2,587.8 L599.4,591 L598.6,590.8 L597.8,594.2 L597,596.4 L596.2,595.5 L595.4,597.8 L594.6,598.9 L593.8,602.7 L593,607.5 L592.2,605 L591.4,617.8 L590.6,604.3 L589.8,606 L589,620.3 L588.2,615.4 L587.4,607.2 L586.6,623.3 L585.8,610.5 L585,608.9 L584.2,609.7 L583.4,607.6 L582.6,611.8 L581.8,605.4 L581,605.5 L580.2,601.9 L579.4,612.3 L578.6,601.4 L577.8,598.8 L577,609.6 L576.2,597.7 L575.4,598 L574.6,597.8 L573.8,610.7 L573,598 L572.2,606.1 L571.4,597.3 L570.6,605.6 L569.8,598.7 L569,599.3 L568.2,603.2 L567.4,605.2 L566.6,606.7 L565.8,620.3 L565,610.2 L564.2,616.3 L563.4,613.2 L562.6,614.7 L561.8,617 L561,619.6 L560.2,626.5 L559.4,620.2 L558.6,632.9 L557.8,623.1 L557,628.1 L556.2,627.5 L555.4,630.5 L554.6,630.4 L553.8,641.5 L553,633.6 L552.2,637.2 L551.4,638.1 L550.6,639.3 L549.8,639.2 L549,652 L548.2,643.6 L547.4,646.4 L546.6,648.5 L545.8,650.7 L545,652.8 L544.2,665.5 L543.4,657.6 L542.6,659.8 L541.8,661.9 L541,663 L540.2,663.7 L539.4,672.5 L538.6,679.2 L537.8,673.1 L537,675.7 L536.2,678.6 L535.4,680.1 L534.6,682.5 L533.8,685.1 L533,688.3 L532.2,692 L531.4,693.7 L530.6,704.5 L529.8,701.2 L529,709.3 L528.2,696.8 L527.4,697.5 L526.6,699.7 L525.8,701.3 L525,700.5 L524.2,703.6 L523.4,703.8 L522.6,709.8 L521.8,704 L521,718.5 L520.2,712.7 L519.4,719 L518.6,706 L517.8,706.8 L517,705.3 L516.2,707.4 L515.4,720.9 L514.6,714.7 L513.8,711.4 L513,708.1 L512.2,709.2 L511.4,708.9 L510.6,721.9 L509.8,710.5 L509,710 L508.2,711.3 L507.4,725.4 L506.6,711.4 L505.8,712.9 L505,713.7 L504.2,723.4 L503.4,715.9 L502.6,717.9 L501.8,720.2 L501,720.4 L500.2,720.5 L499.4,725.1 L498.6,721.2 L497.8,721 L497,720.5 L496.2,718.5 L495.4,717.9 L494.6,726.3 L493.8,717.1 L493,723.4 L492.2,714.6 L491.4,715.6 L490.6,715.5 L489.8,714.4 L489,712.8 L488.2,713.1 L487.4,722.8 L486.6,721.4 L485.8,725.2 L485,712.7 L484.2,718 L483.4,710 L482.6,709.1 L481.8,708.9 L481,708.5 L480.2,710.1 L479.4,708.8 L478.6,711.7 L477.8,708.9 L477,709.8 L476.2,718.8 L475.4,708.6 L474.6,708.4 L473.8,707.9 L473,711.4 L472.2,722.5 L471.4,708.9 L470.6,708.3 L469.8,706.1 L469,710.3 L468.2,703.3 L467.4,698.6 L466.6,698.8 L465.8,696.2 L465,702.4 L464.2,699.3 L463.4,688.3 L462.6,688.4 L461.8,682.8 L461,679.8 L460.2,689.5 L459.4,674.3 L458.6,685.1 L457.8,667.3 L457,665.2 L456.2,661.9 L455.4,661.6 L454.6,660.5 L453.8,662.1 L453,657.9 L452.2,665.7 L451.4,654.6 L450.6,655.8 L449.8,655 L449,658.1 L448.2,673.2 L447.4,659.9 L446.6,662.7 L445.8,663.6 L445,665.9 L444.2,666.3 L443.4,679.8 L442.6,669.9 L441.8,688.4 L441,687.7 L440.2,674.9 L439.4,690.8 L438.6,684.7 L437.8,680.6 L437,689.7 L436.2,684.9 L435.4,688.2 L434.6,688 L433.8,690.9 L433,701.4 L432.2,695.3 L431.4,706.6 L430.6,696.7 L429.8,697.9 L429,699.1 L428.2,700.7 L427.4,707.2 L426.6,709.9 L425.8,706.6 L425,709.5 L424.2,713.6 L423.4,715.5 L422.6,723.8 L421.8,730.1 L421,722 L420.2,724.2 L419.4,737.3 L418.6,728.8 L417.8,731 L417,736.8 L416.2,737.8 L415.4,743.5 L414.6,740.7 L413.8,748.4 L413,755.9 L412.2,746.5 L411.4,753.8 L410.6,748.8 L409.8,750.8 L409,758.6 L408.2,754.8 L407.4,750.3 L406.6,750.1 L405.8,754 L405,747.2 L404.2,744.4 L403.4,745.2 L402.6,746.6 L401.8,740.3 L401,737 L400.2,735.3 L399.4,731.2 L398.6,727.3 L397.8,726.4 L397,735 L396.2,721.2 L395.4,724.7 L394.6,716.6 L393.8,712.3 L393,714.3 L392.2,719.9 L391.4,709 L390.6,705.8 L389.8,704 L389,703.4 L388.2,701.9 L387.4,700.7 L386.6,700.8 L385.8,698.6 L385,707.8 L384.2,698.1 L383.4,697.5 L382.6,700.9 L381.8,694.6 L381,692.9 L380.2,692 L379.4,691.5 L378.6,691.8 L377.8,690.8 L377,689.4 L376.2,688.3 L375.4,687.1 L374.6,687.9 L373.8,682.9 L373,683.5 L372.2,683.1 L371.4,684 L370.6,681.4 L369.8,678.3 L369,678.1 L368.2,689.1 L367.4,679.4 L366.6,689.6 L365.8,678.1 L365,690.9 L364.2,692.7 L363.4,677.9 L362.6,684.4 L361.8,695.3 L361,681.1 L360.2,683 L359.4,698.5 L358.6,699.4 L357.8,697.2 L357,689.8 L356.2,690 L355.4,693.1 L354.6,696.1 L353.8,697.4 L353,703 L352.2,702.6 L351.4,716.8 L350.6,706 L349.8,710.4 L349,712.3 L348.2,726.3 L347.4,717.1 L346.6,719.5 L345.8,719.1 L345,722.5 L344.2,734.2 L343.4,723 L342.6,731.3 L341.8,723.6 L341,723.9 L340.2,723.6 L339.4,738.4 L338.6,727.7 L337.8,723.3 L337,722.4 L336.2,720.6 L335.4,719.9 L334.6,732.9 L333.8,728.8 L333,717 L332.2,719 L331.4,719.7 L330.6,714.9 L329.8,716.3 L329,716.2 L328.2,716.6 L327.4,714.8 L326.6,714.1 L325.8,713.1 L325,718.9 L324.2,713.7 L323.4,722.1 L322.6,731 L321.8,728.2 L321,716.9 L320.2,719.4 L319.4,719.4 L318.6,720.2 L317.8,720.2 L317,721.2 L316.2,721 L315.4,722.9 L314.6,723.9 L313.8,733.1 L313,727.8 L312.2,729.2 L311.4,730.4 L310.6,736.1 L309.8,735.1 L309,748.2 L308.2,736.9 L307.4,737.3 L306.6,738.1 L305.8,736.9 L305,738.8 L304.2,749 L303.4,738.3 L302.6,742 L301.8,737.7 L301,735.4 L300.2,735.4 L299.4,745.2 L298.6,731.5 L297.8,732.8 L297,738.4 L296.2,728.1 L295.4,727.4 L294.6,727.6 L293.8,737.6 L293,723.7 L292.2,722 L291.4,723.5 L290.6,722.3 L289.8,730 L289,727.8 L288.2,720.5 L287.4,722 L286.6,720.8 L285.8,721.6 L285,729.5 L284.2,722.5 L283.4,724.7 L282.6,737.4 L281.8,725.5 L281,727 L280.2,729.6 L279.4,742.8 L278.6,733.2 L277.8,742.9 L277,735.4 L276.2,736.2 L275.4,739.6 L274.6,739.6 L273.8,749.5 L273,752.3 Z" fill="#add8e6" fill-opacity="0.22"/><path d="M273,954.5 L273,752.3 L273.8,749.5 L274.6,739.6 L275.4,739.6 L276.2,736.2 L277,735.4 L277.8,742.9 L278.6,733.2 L279.4,742.8 L280.2,729.6 L281,727 L281.8,725.5 L282.6,737.4 L283.4,724.7 L284.2,722.5 L285,729.5 L285.8,721.6 L286.6,720.8 L287.4,722 L288.2,720.5 L289,727.8 L289.8,730 L290.6,722.3 L291.4,723.5 L292.2,722 L293,723.7 L293.8,737.6 L294.6,727.6 L295.4,727.4 L296.2,728.1 L297,738.4 L297.8,732.8 L298.6,731.5 L299.4,745.2 L300.2,735.4 L301,735.4 L301.8,737.7 L302.6,742 L303.4,738.3 L304.2,749 L305,738.8 L305.8,736.9 L306.6,738.1 L307.4,737.3 L308.2,736.9 L309,748.2 L309.8,735.1 L310.6,736.1 L311.4,730.4 L312.2,729.2 L313,727.8 L313.8,733.1 L314.6,723.9 L315.4,722.9 L316.2,721 L317,721.2 L317.8,720.2 L318.6,720.2 L319.4,719.4 L320.2,719.4 L321,716.9 L321.8,728.2 L322.6,731 L323.4,722.1 L324.2,713.7 L325,718.9 L325.8,713.1 L326.6,714.1 L327.4,714.8 L328.2,716.6 L329,716.2 L329.8,716.3 L330.6,714.9 L331.4,719.7 L332.2,719 L333,717 L333.8,728.8 L334.6,732.9 L335.4,719.9 L336.2,720.6 L337,722.4 L337.8,723.3 L338.6,727.7 L339.4,738.4 L340.2,723.6 L341,723.9 L341.8,723.6 L342.6,731.3 L343.4,723 L344.2,734.2 L345,722.5 L345.8,719.1 L346.6,719.5 L347.4,717.1 L348.2,726.3 L349,712.3 L349.8,710.4 L350.6,706 L351.4,716.8 L352.2,702.6 L353,703 L353.8,697.4 L354.6,696.1 L355.4,693.1 L356.2,690 L357,689.8 L357.8,697.2 L358.6,699.4 L359.4,698.5 L360.2,683 L361,681.1 L361.8,695.3 L362.6,684.4 L363.4,677.9 L364.2,692.7 L365,690.9 L365.8,678.1 L366.6,689.6 L367.4,679.4 L368.2,689.1 L369,678.1 L369.8,678.3 L370.6,681.4 L371.4,684 L372.2,683.1 L373,683.5 L373.8,682.9 L374.6,687.9 L375.4,687.1 L376.2,688.3 L377,689.4 L377.8,690.8 L378.6,691.8 L379.4,691.5 L380.2,692 L381,692.9 L381.8,694.6 L382.6,700.9 L383.4,697.5 L384.2,698.1 L385,707.8 L385.8,698.6 L386.6,700.8 L387.4,700.7 L388.2,701.9 L389,703.4 L389.8,704 L390.6,705.8 L391.4,709 L392.2,719.9 L393,714.3 L393.8,712.3 L394.6,716.6 L395.4,724.7 L396.2,721.2 L397,735 L397.8,726.4 L398.6,727.3 L399.4,731.2 L400.2,735.3 L401,737 L401.8,740.3 L402.6,746.6 L403.4,745.2 L404.2,744.4 L405,747.2 L405.8,754 L406.6,750.1 L407.4,750.3 L408.2,754.8 L409,758.6 L409.8,750.8 L410.6,748.8 L411.4,753.8 L412.2,746.5 L413,755.9 L413.8,748.4 L414.6,740.7 L415.4,743.5 L416.2,737.8 L417,736.8 L417.8,731 L418.6,728.8 L419.4,737.3 L420.2,724.2 L421,722 L421.8,730.1 L422.6,723.8 L423.4,715.5 L424.2,713.6 L425,709.5 L425.8,706.6 L426.6,709.9 L427.4,707.2 L428.2,700.7 L429,699.1 L429.8,697.9 L430.6,696.7 L431.4,706.6 L432.2,695.3 L433,701.4 L433.8,690.9 L434.6,688 L435.4,688.2 L436.2,684.9 L437,689.7 L437.8,680.6 L438.6,684.7 L439.4,690.8 L440.2,674.9 L441,687.7 L441.8,688.4 L442.6,669.9 L443.4,679.8 L444.2,666.3 L445,665.9 L445.8,663.6 L446.6,662.7 L447.4,659.9 L448.2,673.2 L449,658.1 L449.8,655 L450.6,655.8 L451.4,654.6 L452.2,665.7 L453,657.9 L453.8,662.1 L454.6,660.5 L455.4,661.6 L456.2,661.9 L457,665.2 L457.8,667.3 L458.6,685.1 L459.4,674.3 L460.2,689.5 L461,679.8 L461.8,682.8 L462.6,688.4 L463.4,688.3 L464.2,699.3 L465,702.4 L465.8,696.2 L466.6,698.8 L467.4,698.6 L468.2,703.3 L469,710.3 L469.8,706.1 L470.6,708.3 L471.4,708.9 L472.2,722.5 L473,711.4 L473.8,707.9 L474.6,708.4 L475.4,708.6 L476.2,718.8 L477,709.8 L477.8,708.9 L478.6,711.7 L479.4,708.8 L480.2,710.1 L481,708.5 L481.8,708.9 L482.6,709.1 L483.4,710 L484.2,718 L485,712.7 L485.8,725.2 L486.6,721.4 L487.4,722.8 L488.2,713.1 L489,712.8 L489.8,714.4 L490.6,715.5 L491.4,715.6 L492.2,714.6 L493,723.4 L493.8,717.1 L494.6,726.3 L495.4,717.9 L496.2,718.5 L497,720.5 L497.8,721 L498.6,721.2 L499.4,725.1 L500.2,720.5 L501,720.4 L501.8,720.2 L502.6,717.9 L503.4,715.9 L504.2,723.4 L505,713.7 L505.8,712.9 L506.6,711.4 L507.4,725.4 L508.2,711.3 L509,710 L509.8,710.5 L510.6,721.9 L511.4,708.9 L512.2,709.2 L513,708.1 L513.8,711.4 L514.6,714.7 L515.4,720.9 L516.2,707.4 L517,705.3 L517.8,706.8 L518.6,706 L519.4,719 L520.2,712.7 L521,718.5 L521.8,704 L522.6,709.8 L523.4,703.8 L524.2,703.6 L525,700.5 L525.8,701.3 L526.6,699.7 L527.4,697.5 L528.2,696.8 L529,709.3 L529.8,701.2 L530.6,704.5 L531.4,693.7 L532.2,692 L533,688.3 L533.8,685.1 L534.6,682.5 L535.4,680.1 L536.2,678.6 L537,675.7 L537.8,673.1 L538.6,679.2 L539.4,672.5 L540.2,663.7 L541,663 L541.8,661.9 L542.6,659.8 L543.4,657.6 L544.2,665.5 L545,652.8 L545.8,650.7 L546.6,648.5 L547.4,646.4 L548.2,643.6 L549,652 L549.8,639.2 L550.6,639.3 L551.4,638.1 L552.2,637.2 L553,633.6 L553.8,641.5 L554.6,630.4 L555.4,630.5 L556.2,627.5 L557,628.1 L557.8,623.1 L558.6,632.9 L559.4,620.2 L560.2,626.5 L561,619.6 L561.8,617 L562.6,614.7 L563.4,613.2 L564.2,616.3 L565,610.2 L565.8,620.3 L566.6,606.7 L567.4,605.2 L568.2,603.2 L569,599.3 L569.8,598.7 L570.6,605.6 L571.4,597.3 L572.2,606.1 L573,598 L573.8,610.7 L574.6,597.8 L575.4,598 L576.2,597.7 L577,609.6 L577.8,598.8 L578.6,601.4 L579.4,612.3 L580.2,601.9 L581,605.5 L581.8,605.4 L582.6,611.8 L583.4,607.6 L584.2,609.7 L585,608.9 L585.8,610.5 L586.6,623.3 L587.4,607.2 L588.2,615.4 L589,620.3 L589.8,606 L590.6,604.3 L591.4,617.8 L592.2,605 L593,607.5 L593.8,602.7 L594.6,598.9 L595.4,597.8 L596.2,595.5 L597,596.4 L597.8,594.2 L598.6,590.8 L599.4,591 L600.2,587.8 L601,585.2 L601.8,584.3 L602.6,589 L603.4,583.4 L604.2,593.8 L605,582.5 L605.8,590.4 L606.6,580.2 L607.4,579.9 L608.2,585.9 L609,593.6 L609.8,580.5 L610.6,582.5 L611.4,582.9 L612.2,597.1 L613,583.7 L613.8,584 L614.6,584.7 L615.4,593.5 L616.2,587.6 L617,586.2 L617.8,587.3 L618.6,587.6 L619.4,589.2 L620.2,589.7 L621,596.1 L621.8,591.2 L622.6,591.4 L623.4,591.8 L624.2,591.7 L625,593.6 L625.8,592 L626.6,594.3 L627.4,597.5 L628.2,594.3 L629,597.7 L629.8,584.4 L630.6,584.2 L631.4,581.8 L632.2,581.7 L633,590.5 L633.8,582.1 L634.6,583.8 L635.4,575.1 L636.2,586.1 L637,580.9 L637.8,579 L638.6,567 L639.4,564.2 L640.2,562.3 L641,560.6 L641.8,560.1 L642.6,563.4 L643.4,558.2 L644.2,555.3 L645,561 L645.8,552.1 L646.6,565 L647.4,562.4 L648.2,556 L649,548.8 L649.8,548.4 L650.6,558.2 L651.4,548.6 L652.2,546.1 L653,547.9 L653.8,547.3 L654.6,549 L655.4,553.6 L656.2,548.4 L657,549.1 L657.8,551.4 L658.6,554.9 L659.4,550.7 L660.2,551.9 L661,554.2 L661.8,554.4 L662.6,555 L663.4,554.1 L664.2,565.1 L665,557.7 L665.8,567.5 L666.6,558.3 L667.4,568.9 L668.2,560.5 L669,561.7 L669.8,566.9 L670.6,563.1 L671.4,568.1 L672.2,578.9 L673,567.9 L673.8,569.3 L674.6,573.8 L675.4,572.8 L676.2,576.4 L677,578.7 L677.8,587.5 L678.6,589.7 L679.4,585.2 L680.2,594.9 L681,589 L681.8,603.5 L682.6,596.6 L683.4,598.4 L684.2,602.1 L685,607.1 L685.8,608.3 L686.6,611.3 L687.4,621.8 L688.2,628.6 L689,628.7 L689.8,620.9 L690.6,621.7 L691.4,630.7 L692.2,623.1 L693,630.8 L693.8,625 L694.6,637.8 L695.4,624 L696.2,626.3 L697,629.3 L697.8,617.2 L698.6,626.4 L699.4,612 L700.2,610.2 L701,605.3 L701.8,607.6 L702.6,602.5 L703.4,598.8 L704.2,610.4 L705,596.3 L705.8,593.2 L706.6,592.1 L707.4,603.4 L708.2,586.7 L709,585.5 L709.8,582.9 L710.6,586.5 L711.4,589.8 L712.2,589.6 L713,578.9 L713.8,577.4 L714.6,574.4 L715.4,582.2 L716.2,571.5 L717,571.9 L717.8,569.2 L718.6,571.3 L719.4,581.8 L720.2,565.6 L721,563.8 L721.8,562.3 L722.6,563.5 L723.4,571.4 L724.2,557.2 L725,555.9 L725.8,561.3 L726.6,553 L727.4,550.1 L728.2,548.9 L729,548 L729.8,548 L730.6,543.2 L731.4,543.4 L732.2,541.5 L733,541.8 L733.8,541.7 L734.6,541.3 L735.4,555.5 L736.2,541.1 L737,555.4 L737.8,542.7 L738.6,542 L739.4,543.4 L740.2,544.2 L741,546.7 L741.8,549 L742.6,554.6 L743.4,554.6 L744.2,555.3 L745,571.1 L745.8,561.5 L746.6,564.8 L747.4,566.8 L748.2,584.9 L749,572.5 L749.8,575.1 L750.6,590.9 L751.4,585.2 L752.2,580.5 L753,582 L753.8,583.9 L754.6,598 L755.4,587.4 L756.2,589 L757,594.4 L757.8,597.9 L758.6,588.1 L759.4,593.4 L760.2,593.7 L761,586.4 L761.8,590.4 L762.6,588.4 L763.4,586.7 L764.2,585.4 L765,586.7 L765.8,597.4 L766.6,585.9 L767.4,594.7 L768.2,585.1 L769,584.1 L769.8,585.7 L770.6,586.2 L771.4,594 L772.2,590.8 L773,589.2 L773.8,590.7 L774.6,602 L775.4,596.3 L776.2,595.8 L777,593.2 L777.8,602.3 L778.6,602.1 L779.4,596.3 L780.2,606.1 L781,609.5 L781.8,599.5 L782.6,610.2 L783.4,600.5 L784.2,600.7 L785,609.9 L785.8,603.4 L786.6,608.6 L787.4,598.3 L788.2,596.7 L789,602.3 L789.8,599.4 L790.6,594.8 L791.4,594.9 L792.2,591.8 L793,604.7 L793.8,596.9 L794.6,603.1 L795.4,592.4 L796.2,591.2 L797,589.8 L797.8,590 L798.6,590.8 L799.4,605.4 L800.2,591.3 L801,589.5 L801.8,603.1 L802.6,589.3 L803.4,589.4 L804.2,592 L805,589.6 L805.8,590.6 L806.6,590.1 L807.4,596.9 L808.2,590.8 L809,594.6 L809.8,607.7 L810.6,608.5 L811.4,603.6 L812.2,599.2 L813,590.5 L813.8,586 L814.6,594.2 L815.4,581.8 L816.2,578.6 L817,576.3 L817.8,578 L818.6,571.8 L819.4,568.7 L820.2,567.9 L821,564.8 L821.8,562.3 L822.6,559.7 L823.4,565.8 L824.2,556.4 L825,553.6 L825.8,551.7 L826.6,556.1 L827.4,548.5 L828.2,547.5 L829,546.9 L829.8,545.7 L830.6,557.3 L831.4,540.7 L832.2,541.1 L833,539 L833.8,537.7 L834.6,536.6 L835.4,543.4 L836.2,537.4 L837,537.6 L837.8,546.3 L838.6,537.9 L839.4,535.6 L840.2,539.3 L841,536.6 L841.8,533.1 L842.6,530.2 L843.4,542.8 L844.2,527.9 L845,540.4 L845.8,537.6 L846.6,524.3 L847.4,536.3 L848.2,520.1 L849,520.1 L849.8,520.1 L850.6,517.4 L851.4,517.7 L852.2,522.7 L853,526.2 L853.8,516.1 L854.6,514.2 L855.4,515.2 L856.2,515.6 L857,516.6 L857.8,528.5 L858.6,530.8 L859.4,523.7 L860.2,532.3 L861,518.8 L861.8,530.8 L862.6,521.8 L863.4,532.4 L864.2,523.1 L865,526.5 L865.8,528.4 L866.6,529.9 L867.4,546 L868.2,536.1 L869,533.5 L869.8,532.9 L870.6,535.3 L871.4,534.8 L872.2,535.1 L873,537.9 L873.8,537.8 L874.6,538.1 L875.4,541.4 L876.2,538 L877,534.1 L877.8,534.1 L878.6,546.5 L879.4,540.1 L880.2,530.1 L881,528.4 L881.8,537.9 L882.6,527.3 L883.4,528.2 L884.2,524.6 L885,525.8 L885.8,535 L886.6,528.5 L887.4,524.7 L888.2,523.3 L889,523.1 L889.8,520.4 L890.6,533.3 L891.4,530.9 L892.2,521.7 L893,528.3 L893.8,520.3 L894.6,524 L895.4,524.6 L896.2,536.3 L897,526.2 L897.8,527.1 L898.6,529.5 L899.4,527.4 L900.2,539.1 L901,529.9 L901.8,530.9 L902.6,535.1 L903.4,533 L904.2,546.4 L905,533.3 L905.8,536.3 L906.6,534.5 L907.4,549.7 L908.2,536.7 L909,537.5 L909.8,539.3 L910.6,546.2 L911.4,551.9 L912.2,544.7 L913,538.5 L913.8,542.7 L914.6,534.2 L915.4,534.6 L916.2,533.6 L917,533.1 L917.8,532.7 L918.6,531.1 L919.4,528.2 L920.2,532.5 L921,525.9 L921.8,527.2 L922.6,522 L923.4,519.8 L924.2,516 L925,515.3 L925.8,515 L926.6,514.4 L927.4,518.2 L928.2,511.4 L929,512.4 L929.8,515.5 L930.6,510.6 L931.4,510 L932.2,507.8 L933,507.9 L933.8,508.5 L934.6,508 L935.4,508.4 L936.2,511.4 L937,522.3 L937.8,512.5 L938.6,513.8 L939.4,512.3 L940.2,513 L941,525.7 L941.8,518.4 L942.6,517.1 L943.4,520.1 L944.2,522.6 L945,522.5 L945.8,526.7 L946.6,525.9 L947.4,528.9 L948.2,527.1 L949,528.1 L949.8,545.4 L950.6,533.1 L951.4,541.9 L952.2,535 L953,552.3 L953.8,543.9 L954.6,540.2 L955.4,542.5 L956.2,543.8 L957,546.5 L957.8,547.7 L958.6,550.1 L959.4,553.8 L960.2,554.2 L961,557.7 L961.8,559.1 L962.6,560.3 L963.4,564.1 L964.2,579.7 L965,568.3 L965.8,572.8 L966.6,583.3 L967.4,578.7 L968.2,590.9 L969,583.2 L969.8,586.4 L970.6,587.2 L971.4,606.1 L972.2,601.4 L973,595.7 L973.8,603.2 L974.6,600.6 L975.4,605.5 L976.2,613.2 L977,620.7 L977.8,607.8 L978.6,605.9 L979.4,606.3 L980.2,612.4 L981,613.5 L981.8,604.4 L982.6,609.1 L983.4,601.9 L984.2,599.5 L985,604.6 L985.8,596.3 L986.6,590.3 L987.4,587.6 L988.2,595.2 L989,593.3 L989.8,581.6 L990.6,588.5 L991.4,584.3 L992.2,576.6 L993,577.7 L993.8,573.9 L994.6,573.1 L995.4,571.9 L996.2,572.1 L997,580.9 L997.8,570.5 L998.6,570.1 L999.4,581.9 L1000.2,568.2 L1001,571.6 L1001.8,575 L1002.6,562.9 L1003.4,563.7 L1004.2,567.2 L1005,562.2 L1005.8,559.3 L1006.6,572.1 L1007.4,560.9 L1008.2,555.1 L1009,560.5 L1009.8,565 L1010.6,565.9 L1011.4,555.7 L1012.2,548.7 L1013,546.9 L1013.8,547.1 L1014.6,544.9 L1015.4,543.6 L1016.2,543.9 L1017,542.4 L1017.8,541.1 L1018.6,541.5 L1019.4,540 L1020.2,540.1 L1021,543.2 L1021.8,544.4 L1022.6,543.8 L1023.4,546.9 L1024.2,553.8 L1025,564.5 L1025.8,552.5 L1026.6,556.1 L1027.4,571.8 L1028.2,560.8 L1029,571.5 L1029.8,564.5 L1030.6,583.3 L1031.4,587.2 L1032.2,577.1 L1033,581 L1033.8,584.4 L1034.6,587.1 L1035.4,590.5 L1036.2,603.6 L1037,598.2 L1037.8,599.3 L1038.6,602.9 L1039.4,603 L1040.2,605.6 L1041,607.7 L1041.8,613.4 L1042.6,611.4 L1043.4,621.7 L1044.2,614.6 L1045,614.3 L1045.8,628.3 L1046.6,617.2 L1047.4,617 L1048.2,618.2 L1049,617.2 L1049.8,617.2 L1050.6,618.9 L1051.4,619.1 L1052.2,625.9 L1053,626 L1053.8,626.9 L1054.6,622.2 L1055.4,633.5 L1056.2,626.3 L1057,637 L1057.8,628.2 L1058.6,628.7 L1059.4,632.1 L1060.2,630.9 L1061,635.1 L1061.8,634 L1062.6,633 L1063.4,641.6 L1064.2,635.1 L1065,637.4 L1065.8,641.6 L1066.6,638.6 L1067.4,638.3 L1068.2,639.1 L1069,646.2 L1069.8,641.4 L1070.6,652.5 L1071.4,639.2 L1072.2,638.4 L1073,639.4 L1073.8,637.4 L1074.6,639.2 L1075.4,645.5 L1076.2,650.2 L1077,636.4 L1077.8,635.9 L1078.6,646.7 L1079.4,633.8 L1080.2,633.9 L1081,633.6 L1081.8,643.5 L1082.6,650.3 L1083.4,642.2 L1084.2,636.1 L1085,635.6 L1085.8,637.5 L1086.6,650.5 L1087.4,644.9 L1088.2,649 L1089,636.7 L1089.8,637.7 L1090.6,636.6 L1091.4,645.8 L1092.2,643.4 L1093,648.8 L1093.8,634 L1094.6,631.2 L1095.4,637.5 L1096.2,628 L1097,629.1 L1097.8,631.1 L1098.6,622.9 L1099.4,626.2 L1100.2,618.7 L1101,632 L1101.8,613.8 L1102.6,617.5 L1103.4,611.9 L1104.2,607.2 L1105,607.7 L1105.8,612.5 L1106.6,601.9 L1107.4,599.6 L1108.2,604.9 L1109,595.8 L1109.8,596.1 L1110.6,602.2 L1111.4,594.9 L1112.2,590.4 L1113,589.4 L1113.8,585.8 L1114.6,586.6 L1115.4,584.7 L1116.2,588.4 L1117,588.4 L1117.8,582.4 L1118.6,582.3 L1119.4,590.1 L1120.2,578.8 L1121,588.9 L1121.8,590.1 L1122.6,575.7 L1123.4,575.6 L1124.2,575.8 L1125,586.6 L1125.8,572.6 L1126.6,585 L1127.4,568.6 L1128.2,574.7 L1129,565.2 L1129.8,563.8 L1130.6,561.7 L1131.4,575.1 L1132.2,559.7 L1133,557.9 L1133.8,558.4 L1134.6,556.6 L1135.4,559.4 L1136.2,553.4 L1137,553.2 L1137.8,555.9 L1138.6,552.8 L1139.4,550.9 L1140.2,552.6 L1141,552.3 L1141.8,564.2 L1142.6,556 L1143.4,562 L1144.2,552.1 L1145,562.6 L1145.8,553.2 L1146.6,558.4 L1147.4,554.9 L1148.2,556.4 L1149,570.9 L1149.8,561.5 L1150.6,561.5 L1151.4,571.5 L1152.2,561 L1153,568.3 L1153.8,563.9 L1154.6,577.5 L1155.4,574.2 L1156.2,569.3 L1157,578.9 L1157.8,566.4 L1158.6,566.9 L1159.4,565.7 L1160.2,578 L1161,564.3 L1161.8,573.8 L1162.6,561.8 L1163.4,560.9 L1164.2,561.7 L1165,567.1 L1165.8,566.5 L1166.6,567.2 L1167.4,557.5 L1168.2,553.7 L1169,553 L1169.8,566.2 L1170.6,558.4 L1171.4,548.6 L1172.2,549.9 L1173,549 L1173.8,548.1 L1174.6,547.6 L1175.4,546.8 L1176.2,550.1 L1177,558.2 L1177.8,551.7 L1178.6,546.9 L1179.4,547.5 L1180.2,547.8 L1181,557.6 L1181.8,563.1 L1182.6,562.5 L1183.4,552.1 L1184.2,554.9 L1185,564.8 L1185.8,561.2 L1186.6,569.8 L1187.4,556.1 L1188.2,556.4 L1189,565.7 L1189.8,568 L1190.6,565.1 L1191.4,565.8 L1192.2,566.4 L1193,563.6 L1193.8,563.9 L1194.6,561.5 L1195.4,563.1 L1196.2,562.8 L1197,560.9 L1197.8,567 L1198.6,558.3 L1199.4,563.3 L1200.2,556.8 L1201,554.7 L1201.8,563.7 L1202.6,551.5 L1203.4,548.8 L1204.2,553.8 L1205,561 L1205.8,555.7 L1206.6,542.7 L1207.4,540 L1208.2,539.1 L1209,536.5 L1209.8,545.4 L1210.6,543.1 L1211.4,533.9 L1212.2,529.1 L1213,531.8 L1213.8,526.2 L1214.6,528.8 L1215.4,534.3 L1216.2,529.9 L1217,526.7 L1217.8,531.2 L1218.6,525 L1219.4,538.7 L1220.2,536.6 L1221,522.8 L1221.8,523.4 L1222.6,538.4 L1223.4,526.7 L1224.2,541.2 L1225,529.2 L1225.8,529.3 L1226.6,528.9 L1227.4,531.6 L1228.2,539.5 L1229,532.3 L1229.8,534.2 L1230.6,534.6 L1231.4,551.4 L1232.2,537.5 L1233,553.8 L1233.8,555.1 L1234.6,543.3 L1235.4,542.5 L1236.2,545.3 L1237,546.1 L1237.8,546.4 L1238.6,548.6 L1239.4,550.6 L1240.2,559.5 L1241,555.6 L1241.8,555.8 L1242.6,555.2 L1243.4,556.6 L1244.2,559.7 L1245,568.4 L1245.8,572.9 L1246.6,565.2 L1247.4,568.6 L1248.2,576.2 L1249,571.2 L1249.8,573.7 L1250.6,576 L1251.4,593.4 L1252.2,582.7 L1253,595.1 L1253.8,587.8 L1254.6,597.3 L1255.4,592.7 L1256.2,593.9 L1257,609.2 L1257.8,605.3 L1258.6,601.2 L1259.4,604.6 L1260.2,616.6 L1261,607 L1261.8,620.8 L1262.6,613.8 L1263.4,608.8 L1264.2,620.9 L1265,609.3 L1265.8,606 L1266.6,606.4 L1267.4,614.9 L1268.2,605.3 L1269,611 L1269.8,599.6 L1270.6,595.1 L1271.4,595.4 L1272.2,599.8 L1273,591.3 L1273.8,587.8 L1274.6,595.4 L1275.4,584 L1276.2,582.3 L1277,580.1 L1277.8,576.7 L1278.6,577.4 L1279.4,575.8 L1280.2,573.2 L1281,573.7 L1281.8,570.1 L1282.6,569.5 L1283.4,581.8 L1284.2,567.1 L1285,581.4 L1285.8,565.1 L1286.6,564.3 L1287.4,562.4 L1288.2,560.4 L1289,564.8 L1289.8,560.1 L1290.6,570.8 L1291.4,557.6 L1292.2,554.7 L1293,553.5 L1293.8,550.1 L1294.6,551.5 L1295.4,547.3 L1296.2,545.5 L1297,544.5 L1297.8,541.6 L1298.6,541.8 L1299.4,539.1 L1300.2,538.9 L1301,536.2 L1301.8,536.4 L1302.6,535.9 L1303.4,533.9 L1304.2,534.7 L1305,542 L1305.8,537.8 L1306.6,545.3 L1307.4,537.6 L1308.2,548.2 L1309,535.8 L1309.8,543.9 L1310.6,552.8 L1311.4,544.6 L1312.2,552.7 L1313,547.2 L1313.8,552.3 L1314.6,552 L1315.4,555.3 L1316.2,569.1 L1317,561.5 L1317.8,564.8 L1318.6,568 L1319.4,573.4 L1320.2,591.8 L1321,593.2 L1321.8,596.3 L1322.6,594.6 L1323.4,583.8 L1324.2,586.4 L1325,586.4 L1325.8,589.7 L1326.6,602.5 L1327.4,590 L1328.2,593.8 L1329,592.2 L1329.8,595.1 L1330.6,602 L1331.4,593.4 L1332.2,593.3 L1333,594.8 L1333.8,598.2 L1334.6,595.1 L1335.4,596.7 L1336.2,608.6 L1337,595.8 L1337.8,594.6 L1338.6,607.4 L1339.4,597.3 L1340.2,598.2 L1341,599.8 L1341.8,599.4 L1342.6,600 L1343.4,615.5 L1344.2,601.6 L1345,601.3 L1345.8,616.5 L1346.6,604.9 L1347.4,605.7 L1348.2,606.7 L1349,618.5 L1349.8,607.3 L1350.6,620.1 L1351.4,606.3 L1352.2,606.2 L1353,617.9 L1353.8,608.8 L1354.6,616.1 L1355.4,606.7 L1356.2,612.1 L1357,609.3 L1357.8,604.2 L1358.6,604.8 L1359.4,602.7 L1360.2,613.3 L1361,604.9 L1361.8,598.3 L1362.6,598.1 L1363.4,602.8 L1364.2,598.3 L1365,604.3 L1365.8,611.6 L1366.6,610.9 L1367.4,596 L1368.2,597.1 L1369,596.5 L1369.8,601.6 L1370.6,595.6 L1371.4,597.6 L1372.2,595.8 L1373,595.9 L1373.8,607.3 L1374.6,597.1 L1375.4,598.7 L1376.2,597.4 L1377,610.6 L1377.8,599.2 L1378.6,599.2 L1379.4,609.8 L1380.2,602.1 L1381,599.8 L1381.8,603.4 L1382.6,594.1 L1383.4,593.7 L1384.2,593.4 L1385,588.2 L1385.8,588.1 L1386.6,595 L1387.4,584.9 L1388.2,591 L1389,581 L1389.8,578.5 L1390.6,574.5 L1391.4,572.5 L1392.2,569.5 L1393,567.8 L1393.8,566.1 L1394.6,566.4 L1395.4,569.3 L1396.2,563.1 L1397,560.6 L1397.8,562.8 L1398.6,560.3 L1399.4,557.1 L1400.2,556.9 L1401,556.3 L1401.8,553.5 L1402.6,555.2 L1403.4,552.5 L1404.2,560.9 L1405,551 L1405.8,552.1 L1406.6,550.5 L1407.4,550.4 L1408.2,557.7 L1409,548.1 L1409.8,544.1 L1410.6,554.9 L1411.4,541.3 L1412.2,542.5 L1413,540.9 L1413.8,539.4 L1414.6,536.2 L1415.4,533.5 L1416.2,539.5 L1417,530.9 L1417.8,532 L1418.6,530.3 L1419.4,531.2 L1420.2,527.3 L1421,525.3 L1421.8,533.6 L1422.6,523 L1423.4,523.7 L1424.2,523.1 L1425,523.5 L1425.8,522.6 L1426.6,538.1 L1427.4,529.3 L1428.2,523.9 L1429,526.5 L1429.8,526.1 L1430.6,526.8 L1431.4,539.9 L1432.2,530.3 L1433,542.8 L1433.8,530.9 L1434.6,533.4 L1435.4,534.2 L1436.2,535.5 L1437,533.9 L1437.8,534.8 L1438.6,538.2 L1439.4,537 L1440.2,538.1 L1441,540.7 L1441.8,539.2 L1442.6,551 L1443.4,545.6 L1444.2,536.9 L1445,535.7 L1445.8,549.3 L1446.6,534.4 L1447.4,543.5 L1448.2,532.1 L1449,531.1 L1449.8,531.8 L1450.6,534.1 L1451.4,528.5 L1452.2,541.3 L1453,525 L1453.8,528.8 L1454.6,528.8 L1455.4,523.1 L1456.2,522 L1457,528.3 L1457.8,519.1 L1458.6,518.1 L1459.4,530.9 L1460.2,519.4 L1461,517.9 L1461.8,517.7 L1462.6,519.6 L1463.4,528.3 L1464.2,531.8 L1465,520.4 L1465.8,532.6 L1466.6,535.8 L1467.4,523.6 L1468.2,524.3 L1469,534.1 L1469.8,525.1 L1470.6,527.7 L1471.4,527.4 L1472.2,529.4 L1473,536.8 L1473.8,530.5 L1474.6,530.4 L1475.4,532.2 L1476.2,535.1 L1477,535.8 L1477.8,535.6 L1478.6,536.9 L1479.4,535 L1480.2,547.8 L1481,538.4 L1481.8,533.6 L1482.6,531.4 L1483.4,533 L1484.2,530.9 L1485,532.4 L1485.8,527.2 L1486.6,538.9 L1487.4,523.9 L1488.2,522.7 L1489,521.6 L1489.8,529.5 L1490.6,518.1 L1491.4,515.1 L1492.2,511.9 L1493,511.5 L1493.8,510.6 L1494.6,508.2 L1495.4,515.9 L1496.2,507.7 L1497,505.5 L1497.8,503.6 L1498.6,502.4 L1499.4,501.7 L1500.2,512.4 L1501,507.7 L1501.8,500.7 L1502.6,496 L1503.4,505.5 L1504.2,497.5 L1505,497.6 L1505.8,498.6 L1506.6,507.1 L1507.4,504.8 L1508.2,504.3 L1509,510 L1509.8,504.7 L1510.6,513.7 L1511.4,506 L1512.2,506.2 L1513,516.9 L1513.8,510.5 L1514.6,510.9 L1515.4,513.8 L1516.2,511.8 L1517,514.5 L1517.8,527.7 L1518.6,516.6 L1519.4,516.4 L1520.2,528.6 L1521,534.1 L1521.8,532.3 L1522.6,523.4 L1523.4,525.5 L1524.2,532.8 L1525,540.9 L1525.8,530.6 L1526.6,531.4 L1527.4,531.7 L1528.2,534.5 L1529,541.6 L1529.8,539.6 L1530.6,540.2 L1531.4,556.7 L1532.2,553.2 L1533,549.2 L1533.8,560.3 L1534.6,553.1 L1535.4,557.8 L1536.2,559.3 L1537,567.1 L1537.8,580.5 L1538.6,568.4 L1539.4,582.1 L1540.2,586.1 L1541,575.9 L1541.8,591 L1542.6,581.3 L1543.4,582.3 L1544.2,585.7 L1545,581.5 L1545.8,581.2 L1546.6,582.9 L1547.4,582.4 L1548.2,583 L1549,581.1 L1549.8,585.8 L1550.6,578.1 L1551.4,583.4 L1552.2,572.4 L1553,570.9 L1553.8,568.6 L1554.6,566.4 L1555.4,565.3 L1556.2,571.7 L1557,562.6 L1557.8,571 L1558.6,557.1 L1559.4,554.3 L1560.2,559.3 L1561,549.5 L1561.8,550 L1562.6,559.9 L1563.4,545.3 L1564.2,555.8 L1565,541.5 L1565.8,540.2 L1566.6,539.9 L1567.4,538.3 L1568.2,547 L1569,546.4 L1569.8,534.3 L1570.6,533.6 L1571.4,534.1 L1572.2,533.4 L1573,532.7 L1573.8,530.1 L1574.6,535.1 L1575.4,527.1 L1576.2,527.2 L1577,525.5 L1577.8,538.6 L1578.6,523.1 L1579.4,523.4 L1580.2,521.9 L1581,532.8 L1581.8,529.7 L1582.6,518.4 L1583.4,517 L1584.2,517.4 L1585,513.8 L1585.8,513.1 L1586.6,519.8 L1587.4,519.3 L1588.2,510.7 L1589,510.4 L1589.8,523.7 L1590.6,517.8 L1591.4,522.9 L1592.2,515.8 L1593,521 L1593.8,518.2 L1594.6,521.4 L1595.4,523 L1596.2,525 L1597,544.9 L1597.8,543.2 L1598.6,540 L1599.4,540.3 L1600.2,542.1 L1601,551.4 L1601.8,549.2 L1602.6,551.7 L1603.4,555.1 L1604.2,563.6 L1605,561.8 L1605.8,573 L1606.6,569.9 L1607.4,578.4 L1608.2,579.2 L1609,571.4 L1609.8,584.5 L1610.6,571.9 L1611.4,574.4 L1612.2,575.9 L1613,575.5 L1613.8,587.4 L1614.6,576.7 L1615.4,575.2 L1616.2,588.3 L1617,578.5 L1617.8,577.6 L1618.6,578.9 L1619.4,577.9 L1620.2,578.4 L1621,580.1 L1621.8,579 L1622.6,580.5 L1623.4,579.1 L1624.2,582.1 L1625,580.4 L1625.8,582.5 L1626.6,583.7 L1627.4,585 L1628.2,584.6 L1629,586.6 L1629.8,586.3 L1630.6,589.8 L1631.4,592.9 L1632.2,590.7 L1633,592.1 L1633.8,591.1 L1634.6,592.4 L1635.4,592.4 L1636.2,603.9 L1637,592.8 L1637.8,607.5 L1638.6,594.3 L1639.4,593.5 L1640.2,595.3 L1641,594.2 L1641.8,593.9 L1642.6,597.2 L1643.4,591.5 L1644.2,602.2 L1645,594 L1645.8,590.2 L1646.6,596 L1647.4,588 L1648.2,598.5 L1649,588.8 L1649.8,586.9 L1650.6,593 L1651.4,586.9 L1652.2,592.7 L1653,589.8 L1653.8,587.9 L1654.6,601.5 L1655.4,589.8 L1656.2,594 L1657,600.6 L1657.8,590 L1658.6,589.8 L1659.4,598.5 L1660.2,590 L1661,589.7 L1661,954.5 Z" fill="#4361ea" fill-opacity="0.30"/><rect x="226" y="76" width="39" height="9" fill="#4361ea"/><rect x="410" y="76" width="39" height="9" fill="#262a40"/><rect x="733" y="59" width="44" height="44" fill="#d3e9f0"/><rect x="1016" y="59" width="44" height="44" fill="#a3aff2"/><circle cx="1502.8" cy="444.5" r="11.3" fill="#f7b3c2" stroke="#d9002c" stroke-width="4"/><line x1="1502.8" y1="444.5" x2="1502.8" y2="368.2" stroke="#d9002c" stroke-width="4" stroke-dasharray="12.7 11.3" stroke-dashoffset="1.3"/><circle cx="1379.5" cy="564.7" r="11.3" fill="#8be38b" stroke="#07784f" stroke-width="4"/><line x1="1379.5" y1="564.7" x2="1379.5" y2="624.6" stroke="#07784f" stroke-width="4" stroke-dasharray="12.7 11.3" stroke-dashoffset="0.6"/><text x="285.00" y="89.80" font-size="25" font-weight="normal" fill="#000000" textLength="105.00" lengthAdjust="spacingAndGlyphs">Forecast</text><text x="468.00" y="89.80" font-size="25" font-weight="normal" fill="#000000" textLength="187.00" lengthAdjust="spacingAndGlyphs">Historical Price</text><text x="793.00" y="89.80" font-size="25" font-weight="normal" fill="#000000" textLength="206.00" lengthAdjust="spacingAndGlyphs">60% Confidence</text><text x="1075.00" y="89.80" font-size="25" font-weight="normal" fill="#000000" textLength="244.00" lengthAdjust="spacingAndGlyphs">Potential DCA Zone</text><text x="81.00" y="144.00" font-size="28" font-weight="normal" fill="#4b5563" textLength="95.00" lengthAdjust="spacingAndGlyphs">$5,000</text><text x="81.00" y="308.20" font-size="28" font-weight="normal" fill="#4b5563" textLength="95.00" lengthAdjust="spacingAndGlyphs">$4,000</text><text x="81.00" y="472.00" font-size="28" font-weight="normal" fill="#4b5563" textLength="95.00" lengthAdjust="spacingAndGlyphs">$3,000</text><text x="81.00" y="635.90" font-size="28" font-weight="normal" fill="#4b5563" textLength="95.00" lengthAdjust="spacingAndGlyphs">$2,000</text><text x="82.00" y="799.70" font-size="28" font-weight="normal" fill="#4b5563" textLength="94.00" lengthAdjust="spacingAndGlyphs">$1,000</text><text x="143.00" y="963.60" font-size="28" font-weight="normal" fill="#4b5563" textLength="34.00" lengthAdjust="spacingAndGlyphs">$0</text><text x="409.00" y="1028.00" font-size="28" font-weight="normal" fill="#4b5563" textLength="70.00" lengthAdjust="spacingAndGlyphs">2023</text><text x="694.00" y="1028.00" font-size="28" font-weight="normal" fill="#4b5563" textLength="69.00" lengthAdjust="spacingAndGlyphs">2024</text><text x="978.00" y="1028.00" font-size="28" font-weight="normal" fill="#4b5563" textLength="70.00" lengthAdjust="spacingAndGlyphs">2025</text><text x="1262.00" y="1028.00" font-size="28" font-weight="normal" fill="#4b5563" textLength="71.00" lengthAdjust="spacingAndGlyphs">2026</text><text x="1547.00" y="1028.00" font-size="28" font-weight="normal" fill="#4b5563" textLength="70.00" lengthAdjust="spacingAndGlyphs">2027</text><text x="920.00" y="1065.00" font-size="34" font-weight="normal" fill="#4b5563" textLength="80.00" lengthAdjust="spacingAndGlyphs">Date</text><text transform="translate(65.80,653.00) rotate(-90)" x="0" y="0" font-size="34" font-weight="normal" fill="#4b5563" textLength="189.00" lengthAdjust="spacingAndGlyphs">Price (USD)</text><text x="1382.00" y="352.80" font-size="27" font-weight="bold" fill="#d6002b" stroke="#d6002b" stroke-width="0.7" textLength="240.00" lengthAdjust="spacingAndGlyphs">Peak: Sep 2026</text><text x="1245.00" y="654.20" font-size="27" font-weight="bold" fill="#047a58" stroke="#047a58" stroke-width="0.7" textLength="268.00" lengthAdjust="spacingAndGlyphs">Trough: Apr 2026</text></svg></body></html>
